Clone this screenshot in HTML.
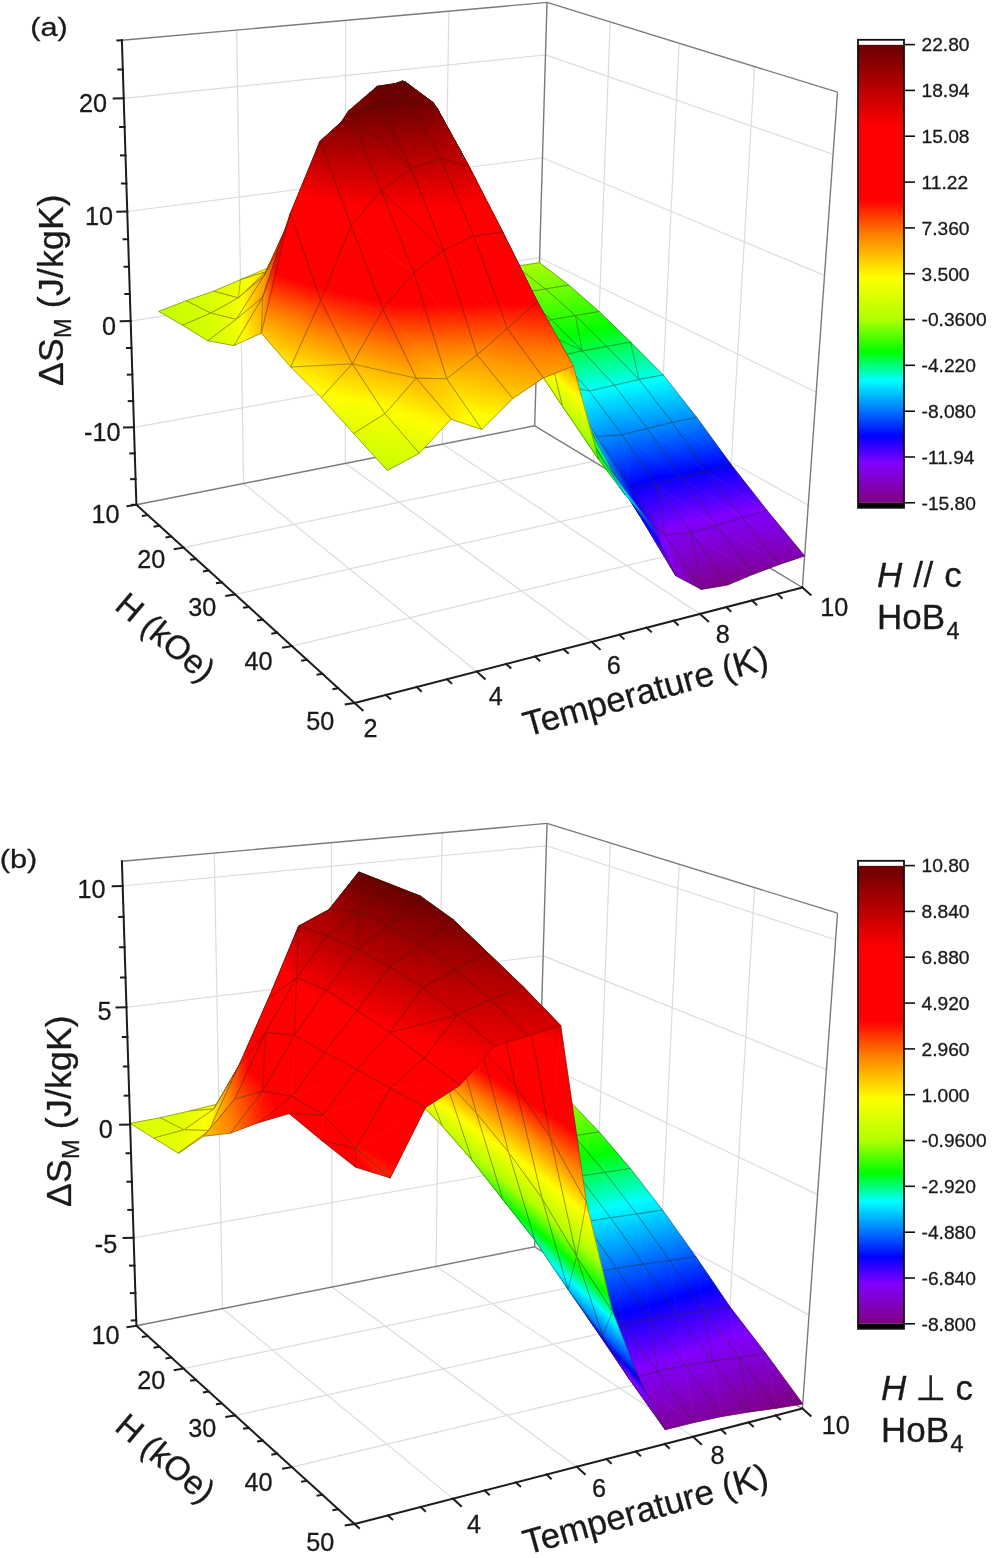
<!DOCTYPE html>
<html><head><meta charset="utf-8"><title>HoB4 magnetic entropy change</title>
<style>
html,body{margin:0;padding:0;background:#fff}
svg{display:block}
text{font-family:"Liberation Sans","DejaVu Sans",sans-serif;fill:#1a1a1a;stroke:#1a1a1a;stroke-width:.3}
.g{stroke:#dcdcdc;stroke-width:1.2;fill:none}
.f{stroke:#7a7a7a;stroke-width:1.4;fill:none}
.a{stroke:#1c1c1c;stroke-width:2;fill:none;stroke-linecap:square}
.s polygon{stroke-width:.7;stroke-linejoin:round}
.s path{fill:none;stroke:#2a2008;stroke-opacity:.42;stroke-width:.9;stroke-linejoin:round}
.ct{stroke:#111;stroke-width:1.6}
</style></head><body>
<svg width="995" height="1558" viewBox="0 0 995 1558">
<defs>
<linearGradient id="cm"><stop offset="0.000" stop-color="#800080"/><stop offset="0.088" stop-color="#8000ff"/><stop offset="0.145" stop-color="#0000ff"/><stop offset="0.267" stop-color="#00ffff"/><stop offset="0.329" stop-color="#00ff00"/><stop offset="0.400" stop-color="#b0ff00"/><stop offset="0.492" stop-color="#ffff00"/><stop offset="0.585" stop-color="#ff8000"/><stop offset="0.660" stop-color="#ff0000"/><stop offset="0.820" stop-color="#ff0000"/><stop offset="1.000" stop-color="#680000"/></linearGradient>
<linearGradient id="cb" x1="0" y1="1" x2="0" y2="0"><stop offset="0.000" stop-color="#800080"/><stop offset="0.088" stop-color="#8000ff"/><stop offset="0.145" stop-color="#0000ff"/><stop offset="0.267" stop-color="#00ffff"/><stop offset="0.329" stop-color="#00ff00"/><stop offset="0.400" stop-color="#b0ff00"/><stop offset="0.492" stop-color="#ffff00"/><stop offset="0.585" stop-color="#ff8000"/><stop offset="0.660" stop-color="#ff0000"/><stop offset="0.820" stop-color="#ff0000"/><stop offset="1.000" stop-color="#680000"/></linearGradient>
<linearGradient id="a0" href="#cm" gradientUnits="userSpaceOnUse" x1="611.8" y1="772.7" x2="411.1" y2="-511.3"/>
<linearGradient id="a1" href="#cm" gradientUnits="userSpaceOnUse" x1="631.4" y1="769.8" x2="421.8" y2="-513.4"/>
<linearGradient id="a2" href="#cm" gradientUnits="userSpaceOnUse" x1="588.8" y1="779.5" x2="386.8" y2="-512.4"/>
<linearGradient id="a3" href="#cm" gradientUnits="userSpaceOnUse" x1="608.4" y1="776.5" x2="397.5" y2="-514.3"/>
<linearGradient id="a4" href="#cm" gradientUnits="userSpaceOnUse" x1="573" y1="782" x2="371.1" y2="-510"/>
<linearGradient id="a5" href="#cm" gradientUnits="userSpaceOnUse" x1="577.6" y1="787.6" x2="364.1" y2="-519"/>
<linearGradient id="a6" href="#cm" gradientUnits="userSpaceOnUse" x1="521" y1="-122.1" x2="375.3" y2="874.3"/>
<linearGradient id="a7" href="#cm" gradientUnits="userSpaceOnUse" x1="601.5" y1="190.5" x2="292.6" y2="433"/>
<linearGradient id="a8" href="#cm" gradientUnits="userSpaceOnUse" x1="627.8" y1="691.9" x2="451.4" y2="-387.8"/>
<linearGradient id="a9" href="#cm" gradientUnits="userSpaceOnUse" x1="647.2" y1="688.8" x2="462" y2="-389.9"/>
<linearGradient id="a10" href="#cm" gradientUnits="userSpaceOnUse" x1="604.4" y1="698.4" x2="426.9" y2="-388.2"/>
<linearGradient id="a11" href="#cm" gradientUnits="userSpaceOnUse" x1="623.8" y1="695.2" x2="437.5" y2="-390.1"/>
<linearGradient id="a12" href="#cm" gradientUnits="userSpaceOnUse" x1="434" y1="302.2" x2="463.2" y2="236.5"/>
<linearGradient id="a13" href="#cm" gradientUnits="userSpaceOnUse" x1="405.6" y1="426.1" x2="486.5" y2="68.3"/>
<linearGradient id="a14" href="#cm" gradientUnits="userSpaceOnUse" x1="580.7" y1="704.9" x2="402.1" y2="-388.5"/>
<linearGradient id="a15" href="#cm" gradientUnits="userSpaceOnUse" x1="600.1" y1="701.7" x2="412.7" y2="-390.4"/>
<linearGradient id="a16" href="#cm" gradientUnits="userSpaceOnUse" x1="657.1" y1="645.7" x2="491.9" y2="-317"/>
<linearGradient id="a17" href="#cm" gradientUnits="userSpaceOnUse" x1="661.2" y1="649.2" x2="484.8" y2="-324.4"/>
<linearGradient id="a18" href="#cm" gradientUnits="userSpaceOnUse" x1="679.4" y1="217.2" x2="201.9" y2="443.9"/>
<linearGradient id="a19" href="#cm" gradientUnits="userSpaceOnUse" x1="463.9" y1="416.6" x2="554.1" y2="121.8"/>
<linearGradient id="a20" href="#cm" gradientUnits="userSpaceOnUse" x1="625.8" y1="655.4" x2="458.4" y2="-319.5"/>
<linearGradient id="a21" href="#cm" gradientUnits="userSpaceOnUse" x1="645.1" y1="652.1" x2="468.7" y2="-321.5"/>
<linearGradient id="a22" href="#cm" gradientUnits="userSpaceOnUse" x1="420.2" y1="418.9" x2="424.1" y2="66.5"/>
<linearGradient id="a23" href="#cm" gradientUnits="userSpaceOnUse" x1="397.9" y1="433" x2="435" y2="57.9"/>
<linearGradient id="a24" href="#cm" gradientUnits="userSpaceOnUse" x1="609.6" y1="658.2" x2="442.3" y2="-316.8"/>
<linearGradient id="a25" href="#cm" gradientUnits="userSpaceOnUse" x1="592.7" y1="639.7" x2="477.6" y2="-279"/>
<linearGradient id="a26" href="#cm" gradientUnits="userSpaceOnUse" x1="429.8" y1="416.2" x2="380" y2="66.5"/>
<linearGradient id="a27" href="#cm" gradientUnits="userSpaceOnUse" x1="422.1" y1="425.6" x2="391.4" y2="61.5"/>
<linearGradient id="a28" href="#cm" gradientUnits="userSpaceOnUse" x1="407.3" y1="408.9" x2="534.5" y2="98.3"/>
<linearGradient id="a29" href="#cm" gradientUnits="userSpaceOnUse" x1="389.6" y1="362.6" x2="530.2" y2="121.4"/>
<linearGradient id="a30" href="#cm" gradientUnits="userSpaceOnUse" x1="677.8" y1="645" x2="502" y2="-325"/>
<linearGradient id="a31" href="#cm" gradientUnits="userSpaceOnUse" x1="697.1" y1="641.5" x2="511.7" y2="-327"/>
<linearGradient id="a32" href="#cm" gradientUnits="userSpaceOnUse" x1="562.7" y1="309.3" x2="455.8" y2="325.8"/>
<linearGradient id="a33" href="#cm" gradientUnits="userSpaceOnUse" x1="857.5" y1="482.7" x2="-110.1" y2="60.9"/>
<linearGradient id="a34" href="#cm" gradientUnits="userSpaceOnUse" x1="399.9" y1="420.8" x2="342.4" y2="71.7"/>
<linearGradient id="a35" href="#cm" gradientUnits="userSpaceOnUse" x1="428.3" y1="415.2" x2="366" y2="67.9"/>
<linearGradient id="a36" href="#cm" gradientUnits="userSpaceOnUse" x1="661.6" y1="648" x2="485.9" y2="-322.1"/>
<linearGradient id="a37" href="#cm" gradientUnits="userSpaceOnUse" x1="647.2" y1="632.9" x2="522.7" y2="-285.7"/>
<linearGradient id="a38" href="#cm" gradientUnits="userSpaceOnUse" x1="372.8" y1="420.7" x2="314.6" y2="80.4"/>
<linearGradient id="a39" href="#cm" gradientUnits="userSpaceOnUse" x1="418.1" y1="405.8" x2="331.1" y2="79.1"/>
<linearGradient id="a40" href="#cm" gradientUnits="userSpaceOnUse" x1="618.8" y1="634.7" x2="503.8" y2="-278.7"/>
<linearGradient id="a41" href="#cm" gradientUnits="userSpaceOnUse" x1="622.6" y1="638.2" x2="496.6" y2="-287.5"/>
<linearGradient id="a42" href="#cm" gradientUnits="userSpaceOnUse" x1="344.6" y1="413.7" x2="286.2" y2="96.6"/>
<linearGradient id="a43" href="#cm" gradientUnits="userSpaceOnUse" x1="406.3" y1="382.8" x2="291.5" y2="102"/>
<linearGradient id="a44" href="#cm" gradientUnits="userSpaceOnUse" x1="313.2" y1="381.7" x2="259.4" y2="139.8"/>
<linearGradient id="a45" href="#cm" gradientUnits="userSpaceOnUse" x1="378.4" y1="322.4" x2="253.5" y2="161.3"/>
<linearGradient id="a46" href="#cm" gradientUnits="userSpaceOnUse" x1="442.7" y1="282.1" x2="539.5" y2="218"/>
<linearGradient id="a47" href="#cm" gradientUnits="userSpaceOnUse" x1="470.9" y1="326.1" x2="569.3" y2="263.4"/>
<linearGradient id="a48" href="#cm" gradientUnits="userSpaceOnUse" x1="340.9" y1="287.6" x2="469.9" y2="101.8"/>
<linearGradient id="a49" href="#cm" gradientUnits="userSpaceOnUse" x1="370" y1="309.7" x2="494.6" y2="117.7"/>
<linearGradient id="a50" href="#cm" gradientUnits="userSpaceOnUse" x1="704.5" y1="590.3" x2="552.9" y2="-201.6"/>
<linearGradient id="a51" href="#cm" gradientUnits="userSpaceOnUse" x1="707.3" y1="592.3" x2="543.5" y2="-207.9"/>
<linearGradient id="a52" href="#cm" gradientUnits="userSpaceOnUse" x1="862.2" y1="480.4" x2="-136.7" y2="107.2"/>
<linearGradient id="a53" href="#cm" gradientUnits="userSpaceOnUse" x1="841.8" y1="463.4" x2="-96.1" y2="166.8"/>
<linearGradient id="a54" href="#cm" gradientUnits="userSpaceOnUse" x1="243.3" y1="243.2" x2="272.5" y2="304.2"/>
<linearGradient id="a55" href="#cm" gradientUnits="userSpaceOnUse" x1="267.7" y1="252.2" x2="281.4" y2="260.4"/>
<linearGradient id="a56" href="#cm" gradientUnits="userSpaceOnUse" x1="-230" y1="79.7" x2="761.8" y2="531.5"/>
<linearGradient id="a57" href="#cm" gradientUnits="userSpaceOnUse" x1="57.1" y1="239" x2="447.3" y2="329.2"/>
<linearGradient id="a58" href="#cm" gradientUnits="userSpaceOnUse" x1="671.3" y1="593.1" x2="553.9" y2="-192.3"/>
<linearGradient id="a59" href="#cm" gradientUnits="userSpaceOnUse" x1="674.3" y1="595.4" x2="545.4" y2="-199.6"/>
<linearGradient id="a60" href="#cm" gradientUnits="userSpaceOnUse" x1="-762" y1="429.8" x2="1404.6" y2="142.2"/>
<linearGradient id="a61" href="#cm" gradientUnits="userSpaceOnUse" x1="-268" y1="299.8" x2="800.1" y2="301.8"/>
<linearGradient id="a62" href="#cm" gradientUnits="userSpaceOnUse" x1="414.6" y1="227.7" x2="418.7" y2="89.8"/>
<linearGradient id="a63" href="#cm" gradientUnits="userSpaceOnUse" x1="354.2" y1="216.9" x2="449.9" y2="102.5"/>
<linearGradient id="a64" href="#cm" gradientUnits="userSpaceOnUse" x1="646.5" y1="598.5" x2="527.8" y2="-192.8"/>
<linearGradient id="a65" href="#cm" gradientUnits="userSpaceOnUse" x1="649.3" y1="600.7" x2="519" y2="-200.1"/>
<linearGradient id="a66" href="#cm" gradientUnits="userSpaceOnUse" x1="467.1" y1="376.9" x2="606.5" y2="239.9"/>
<linearGradient id="a67" href="#cm" gradientUnits="userSpaceOnUse" x1="502" y1="414.1" x2="626.6" y2="248.8"/>
<linearGradient id="a68" href="#cm" gradientUnits="userSpaceOnUse" x1="-540.7" y1="695.3" x2="1125.4" y2="-194.9"/>
<linearGradient id="a69" href="#cm" gradientUnits="userSpaceOnUse" x1="-483.7" y1="609.7" x2="1059.2" y2="-66.6"/>
<linearGradient id="a70" href="#cm" gradientUnits="userSpaceOnUse" x1="450.6" y1="193.8" x2="481.8" y2="175.4"/>
<linearGradient id="a71" href="#cm" gradientUnits="userSpaceOnUse" x1="460.2" y1="238.6" x2="509.2" y2="213.4"/>
<linearGradient id="a72" href="#cm" gradientUnits="userSpaceOnUse" x1="730.1" y1="582" x2="571.6" y2="-192.6"/>
<linearGradient id="a73" href="#cm" gradientUnits="userSpaceOnUse" x1="726.1" y1="579.6" x2="589" y2="-181.3"/>
<linearGradient id="a74" href="#cm" gradientUnits="userSpaceOnUse" x1="708.8" y1="560.9" x2="223.6" y2="-45.1"/>
<linearGradient id="a75" href="#cm" gradientUnits="userSpaceOnUse" x1="671.6" y1="610.1" x2="371.7" y2="-213.4"/>
<linearGradient id="a76" href="#cm" gradientUnits="userSpaceOnUse" x1="-44.3" y1="-160.9" x2="461.5" y2="146.5"/>
<linearGradient id="a77" href="#cm" gradientUnits="userSpaceOnUse" x1="378.4" y1="418" x2="404" y2="70.2"/>
<linearGradient id="a78" href="#cm" gradientUnits="userSpaceOnUse" x1="699" y1="583.4" x2="573.1" y2="-174.4"/>
<linearGradient id="a79" href="#cm" gradientUnits="userSpaceOnUse" x1="701" y1="584.9" x2="562.6" y2="-181.5"/>
<linearGradient id="a80" href="#cm" gradientUnits="userSpaceOnUse" x1="449" y1="326.6" x2="352.1" y2="87.1"/>
<linearGradient id="a81" href="#cm" gradientUnits="userSpaceOnUse" x1="433.4" y1="348.9" x2="379.7" y2="76.7"/>
<linearGradient id="a82" href="#cm" gradientUnits="userSpaceOnUse" x1="432.4" y1="314.7" x2="315.2" y2="108.3"/>
<linearGradient id="a83" href="#cm" gradientUnits="userSpaceOnUse" x1="444.2" y1="322.8" x2="345" y2="90.9"/>
<linearGradient id="a84" href="#cm" gradientUnits="userSpaceOnUse" x1="458.3" y1="276.6" x2="532.9" y2="230.6"/>
<linearGradient id="a85" href="#cm" gradientUnits="userSpaceOnUse" x1="487.8" y1="314.7" x2="554.2" y2="269.6"/>
<linearGradient id="a86" href="#cm" gradientUnits="userSpaceOnUse" x1="431.6" y1="142.9" x2="450.9" y2="129.6"/>
<linearGradient id="a87" href="#cm" gradientUnits="userSpaceOnUse" x1="439.3" y1="181.3" x2="474.2" y2="160.5"/>
<linearGradient id="a88" href="#cm" gradientUnits="userSpaceOnUse" x1="545.7" y1="378.5" x2="584.3" y2="356.5"/>
<linearGradient id="a89" href="#cm" gradientUnits="userSpaceOnUse" x1="574.4" y1="408.6" x2="587.1" y2="400.2"/>
<linearGradient id="a90" href="#cm" gradientUnits="userSpaceOnUse" x1="673.8" y1="588.8" x2="546.7" y2="-174.6"/>
<linearGradient id="a91" href="#cm" gradientUnits="userSpaceOnUse" x1="675.6" y1="590.4" x2="535.9" y2="-181.7"/>
<linearGradient id="a92" href="#cm" gradientUnits="userSpaceOnUse" x1="402.3" y1="312" x2="275" y2="141"/>
<linearGradient id="a93" href="#cm" gradientUnits="userSpaceOnUse" x1="425.5" y1="308.8" x2="307.1" y2="115.5"/>
<linearGradient id="a94" href="#cm" gradientUnits="userSpaceOnUse" x1="343.1" y1="305" x2="245.6" y2="197.2"/>
<linearGradient id="a95" href="#cm" gradientUnits="userSpaceOnUse" x1="370.6" y1="255.1" x2="273.4" y2="177.5"/>
<linearGradient id="a96" href="#cm" gradientUnits="userSpaceOnUse" x1="241.3" y1="267.9" x2="269.6" y2="294.7"/>
<linearGradient id="a97" href="#cm" gradientUnits="userSpaceOnUse" x1="271.5" y1="253.3" x2="275.5" y2="255"/>
<linearGradient id="a98" href="#cm" gradientUnits="userSpaceOnUse" x1="-237.1" y1="263.4" x2="763" y2="363.8"/>
<linearGradient id="a99" href="#cm" gradientUnits="userSpaceOnUse" x1="116.6" y1="284.7" x2="373.7" y2="310.5"/>
<linearGradient id="a100" href="#cm" gradientUnits="userSpaceOnUse" x1="752.9" y1="587.5" x2="608" y2="-259.8"/>
<linearGradient id="a101" href="#cm" gradientUnits="userSpaceOnUse" x1="755" y1="588.6" x2="596.2" y2="-269.1"/>
<linearGradient id="a102" href="#cm" gradientUnits="userSpaceOnUse" x1="668.3" y1="601.7" x2="393.6" y2="-185.5"/>
<linearGradient id="a103" href="#cm" gradientUnits="userSpaceOnUse" x1="682.3" y1="596.4" x2="399" y2="-185.8"/>
<linearGradient id="a104" href="#cm" gradientUnits="userSpaceOnUse" x1="-318.4" y1="794.1" x2="866.5" y2="-274.3"/>
<linearGradient id="a105" href="#cm" gradientUnits="userSpaceOnUse" x1="-154.4" y1="444" x2="669" y2="179.7"/>
<linearGradient id="a106" href="#cm" gradientUnits="userSpaceOnUse" x1="727.8" y1="592.8" x2="581.3" y2="-261.1"/>
<linearGradient id="a107" href="#cm" gradientUnits="userSpaceOnUse" x1="725.5" y1="590.5" x2="604.1" y2="-243.3"/>
<linearGradient id="a108" href="#cm" gradientUnits="userSpaceOnUse" x1="397.5" y1="131.1" x2="423.2" y2="93"/>
<linearGradient id="a109" href="#cm" gradientUnits="userSpaceOnUse" x1="388.2" y1="159.9" x2="446.5" y2="113.2"/>
<linearGradient id="a110" href="#cm" gradientUnits="userSpaceOnUse" x1="578.7" y1="312.4" x2="486.7" y2="330.3"/>
<linearGradient id="a111" href="#cm" gradientUnits="userSpaceOnUse" x1="628.4" y1="350.8" x2="438" y2="379.1"/>
<linearGradient id="a112" href="#cm" gradientUnits="userSpaceOnUse" x1="468.1" y1="193.1" x2="481.9" y2="185.9"/>
<linearGradient id="a113" href="#cm" gradientUnits="userSpaceOnUse" x1="479" y1="238.2" x2="506.3" y2="224.8"/>
<linearGradient id="a114" href="#cm" gradientUnits="userSpaceOnUse" x1="606" y1="424.6" x2="549.1" y2="448.8"/>
<linearGradient id="a115" href="#cm" gradientUnits="userSpaceOnUse" x1="635.1" y1="449.7" x2="510.6" y2="506.9"/>
<linearGradient id="a116" href="#cm" gradientUnits="userSpaceOnUse" x1="701.9" y1="595.6" x2="555.5" y2="-246.5"/>
<linearGradient id="a117" href="#cm" gradientUnits="userSpaceOnUse" x1="703.4" y1="596.6" x2="542.9" y2="-255.4"/>
<linearGradient id="a118" href="#cm" gradientUnits="userSpaceOnUse" x1="300.2" y1="897.9" x2="408.4" y2="55"/>
<linearGradient id="a119" href="#cm" gradientUnits="userSpaceOnUse" x1="354.4" y1="373.8" x2="406.4" y2="82.3"/>
<linearGradient id="a120" href="#cm" gradientUnits="userSpaceOnUse" x1="782.3" y1="589.7" x2="617.2" y2="-338.2"/>
<linearGradient id="a121" href="#cm" gradientUnits="userSpaceOnUse" x1="781.5" y1="587.9" x2="649.6" y2="-312.2"/>
<linearGradient id="a122" href="#cm" gradientUnits="userSpaceOnUse" x1="692.7" y1="608" x2="346" y2="-260.3"/>
<linearGradient id="a123" href="#cm" gradientUnits="userSpaceOnUse" x1="705.7" y1="602.4" x2="350.2" y2="-260"/>
<linearGradient id="a124" href="#cm" gradientUnits="userSpaceOnUse" x1="674.2" y1="325.4" x2="400.4" y2="236.2"/>
<linearGradient id="a125" href="#cm" gradientUnits="userSpaceOnUse" x1="723.6" y1="472.3" x2="332.9" y2="169.1"/>
<linearGradient id="a126" href="#cm" gradientUnits="userSpaceOnUse" x1="395.7" y1="133.1" x2="365.2" y2="96.1"/>
<linearGradient id="a127" href="#cm" gradientUnits="userSpaceOnUse" x1="398.8" y1="177.4" x2="385.9" y2="84.9"/>
<linearGradient id="a128" href="#cm" gradientUnits="userSpaceOnUse" x1="575" y1="384.4" x2="552.5" y2="397.5"/>
<linearGradient id="a129" href="#cm" gradientUnits="userSpaceOnUse" x1="585.6" y1="422.9" x2="587.7" y2="421.8"/>
<linearGradient id="a130" href="#cm" gradientUnits="userSpaceOnUse" x1="462.7" y1="131.2" x2="450.9" y2="137.5"/>
<linearGradient id="a131" href="#cm" gradientUnits="userSpaceOnUse" x1="470" y1="173.9" x2="471.9" y2="172.9"/>
<linearGradient id="a132" href="#cm" gradientUnits="userSpaceOnUse" x1="753.5" y1="591.4" x2="634" y2="-303.5"/>
<linearGradient id="a133" href="#cm" gradientUnits="userSpaceOnUse" x1="753.8" y1="590.1" x2="657.8" y2="-281.9"/>
<linearGradient id="a134" href="#cm" gradientUnits="userSpaceOnUse" x1="107.5" y1="287.7" x2="382.2" y2="306"/>
<linearGradient id="a135" href="#cm" gradientUnits="userSpaceOnUse" x1="179.6" y1="259.2" x2="330.6" y2="269.3"/>
<linearGradient id="a136" href="#cm" gradientUnits="userSpaceOnUse" x1="-140.1" y1="392.7" x2="658.2" y2="267.4"/>
<linearGradient id="a137" href="#cm" gradientUnits="userSpaceOnUse" x1="97.5" y1="321" x2="390.1" y2="320.5"/>
<linearGradient id="a138" href="#cm" gradientUnits="userSpaceOnUse" x1="381.3" y1="166.6" x2="333.5" y2="122.7"/>
<linearGradient id="a139" href="#cm" gradientUnits="userSpaceOnUse" x1="404.5" y1="172.6" x2="355.4" y2="101.1"/>
<linearGradient id="a140" href="#cm" gradientUnits="userSpaceOnUse" x1="240.7" y1="225.1" x2="303.9" y2="244.7"/>
<linearGradient id="a141" href="#cm" gradientUnits="userSpaceOnUse" x1="252.8" y1="184.5" x2="316.7" y2="204.6"/>
<linearGradient id="a142" href="#cm" gradientUnits="userSpaceOnUse" x1="254.6" y1="160.3" x2="325.4" y2="181.2"/>
<linearGradient id="a143" href="#cm" gradientUnits="userSpaceOnUse" x1="255.3" y1="113.7" x2="340.1" y2="146"/>
<linearGradient id="a144" href="#cm" gradientUnits="userSpaceOnUse" x1="656.4" y1="477.4" x2="473.8" y2="535.3"/>
<linearGradient id="a145" href="#cm" gradientUnits="userSpaceOnUse" x1="681.6" y1="501.6" x2="386.8" y2="592"/>
<linearGradient id="a146" href="#cm" gradientUnits="userSpaceOnUse" x1="729.9" y1="595.3" x2="564.9" y2="-302.6"/>
<linearGradient id="a147" href="#cm" gradientUnits="userSpaceOnUse" x1="726.5" y1="591.5" x2="652.2" y2="-227.8"/>
<linearGradient id="a148" href="#cm" gradientUnits="userSpaceOnUse" x1="631.9" y1="329.7" x2="429.4" y2="390.8"/>
<linearGradient id="a149" href="#cm" gradientUnits="userSpaceOnUse" x1="641.8" y1="360.2" x2="437.9" y2="421.8"/>
<linearGradient id="a150" href="#cm" gradientUnits="userSpaceOnUse" x1="727" y1="411.3" x2="394.8" y2="146.9"/>
<linearGradient id="a151" href="#cm" gradientUnits="userSpaceOnUse" x1="707.6" y1="443.1" x2="373.9" y2="168.9"/>
<linearGradient id="a152" href="#cm" gradientUnits="userSpaceOnUse" x1="466.3" y1="52.3" x2="424.1" y2="98.9"/>
<linearGradient id="a153" href="#cm" gradientUnits="userSpaceOnUse" x1="427.2" y1="133.7" x2="446.3" y2="122.2"/>
<linearGradient id="a154" href="#cm" gradientUnits="userSpaceOnUse" x1="705.2" y1="600.5" x2="365.7" y2="-241.7"/>
<linearGradient id="a155" href="#cm" gradientUnits="userSpaceOnUse" x1="716.5" y1="596.5" x2="406.4" y2="-263.7"/>
<linearGradient id="a156" href="#cm" gradientUnits="userSpaceOnUse" x1="599.9" y1="449.5" x2="601.9" y2="448.4"/>
<linearGradient id="a157" href="#cm" gradientUnits="userSpaceOnUse" x1="624" y1="481.7" x2="605.2" y2="492.3"/>
<linearGradient id="a158" href="#cm" gradientUnits="userSpaceOnUse" x1="699.8" y1="541.5" x2="284.5" y2="550.8"/>
<linearGradient id="a159" href="#cm" gradientUnits="userSpaceOnUse" x1="710.1" y1="568.8" x2="145" y2="531.7"/>
<linearGradient id="a160" href="#cm" gradientUnits="userSpaceOnUse" x1="-163.5" y1="3429.5" x2="398.6" y2="81"/>
<linearGradient id="a161" href="#cm" gradientUnits="userSpaceOnUse" x1="1641.9" y1="346.5" x2="403.2" y2="94.1"/>
<linearGradient id="a162" href="#cm" gradientUnits="userSpaceOnUse" x1="576.9" y1="306.4" x2="461.5" y2="335.5"/>
<linearGradient id="a163" href="#cm" gradientUnits="userSpaceOnUse" x1="653.8" y1="327.4" x2="402.2" y2="387.1"/>
<linearGradient id="a164" href="#cm" gradientUnits="userSpaceOnUse" x1="451.8" y1="147.4" x2="457.5" y2="144.2"/>
<linearGradient id="a165" href="#cm" gradientUnits="userSpaceOnUse" x1="424.7" y1="223" x2="490.6" y2="196.9"/>
<linearGradient id="a166" href="#cm" gradientUnits="userSpaceOnUse" x1="-316.6" y1="258.1" x2="381.8" y2="97.2"/>
<linearGradient id="a167" href="#cm" gradientUnits="userSpaceOnUse" x1="647" y1="388" x2="452.5" y2="450.7"/>
<linearGradient id="a168" href="#cm" gradientUnits="userSpaceOnUse" x1="633.7" y1="430" x2="509.9" y2="469.9"/>
<linearGradient id="a169" href="#cm" gradientUnits="userSpaceOnUse" x1="40" y1="393" x2="447.1" y2="263.4"/>
<linearGradient id="a170" href="#cm" gradientUnits="userSpaceOnUse" x1="172.1" y1="290" x2="330.1" y2="276.1"/>
<linearGradient id="a171" href="#cm" gradientUnits="userSpaceOnUse" x1="266.7" y1="99.8" x2="345.3" y2="130.9"/>
<linearGradient id="a172" href="#cm" gradientUnits="userSpaceOnUse" x1="309.2" y1="-5.6" x2="360.7" y2="112.6"/>
<linearGradient id="a173" href="#cm" gradientUnits="userSpaceOnUse" x1="626.5" y1="513.6" x2="673.5" y2="473.7"/>
<linearGradient id="a174" href="#cm" gradientUnits="userSpaceOnUse" x1="647.2" y1="545.3" x2="713" y2="496.6"/>
<linearGradient id="a175" href="#cm" gradientUnits="userSpaceOnUse" x1="333.8" y1="276.2" x2="257.9" y2="230.5"/>
<linearGradient id="a176" href="#cm" gradientUnits="userSpaceOnUse" x1="362.9" y1="231.7" x2="286.1" y2="183.6"/>
<linearGradient id="a177" href="#cm" gradientUnits="userSpaceOnUse" x1="409.5" y1="264.8" x2="290.6" y2="157"/>
<linearGradient id="a178" href="#cm" gradientUnits="userSpaceOnUse" x1="418.7" y1="315" x2="322.3" y2="123.3"/>
<linearGradient id="a179" href="#cm" gradientUnits="userSpaceOnUse" x1="630.8" y1="349.8" x2="447.3" y2="419.9"/>
<linearGradient id="a180" href="#cm" gradientUnits="userSpaceOnUse" x1="630.7" y1="386.2" x2="475.3" y2="444.4"/>
<linearGradient id="a181" href="#cm" gradientUnits="userSpaceOnUse" x1="640.6" y1="757.2" x2="419" y2="93.2"/>
<linearGradient id="a182" href="#cm" gradientUnits="userSpaceOnUse" x1="669.8" y1="740.8" x2="428.8" y2="90.1"/>
<linearGradient id="a183" href="#cm" gradientUnits="userSpaceOnUse" x1="354.9" y1="391.9" x2="532.7" y2="173.5"/>
<linearGradient id="a184" href="#cm" gradientUnits="userSpaceOnUse" x1="394.7" y1="420.1" x2="575.9" y2="212.3"/>
<linearGradient id="a185" href="#cm" gradientUnits="userSpaceOnUse" x1="616.4" y1="466.2" x2="593.7" y2="479.8"/>
<linearGradient id="a186" href="#cm" gradientUnits="userSpaceOnUse" x1="643.7" y1="490.3" x2="588" y2="527"/>
<linearGradient id="a187" href="#cm" gradientUnits="userSpaceOnUse" x1="479.2" y1="750.5" x2="406.9" y2="97.2"/>
<linearGradient id="a188" href="#cm" gradientUnits="userSpaceOnUse" x1="445" y1="724.3" x2="407.8" y2="98.7"/>
<linearGradient id="a189" href="#cm" gradientUnits="userSpaceOnUse" x1="400.6" y1="720" x2="379.2" y2="100.5"/>
<linearGradient id="a190" href="#cm" gradientUnits="userSpaceOnUse" x1="373.3" y1="690" x2="381.6" y2="102.6"/>
<linearGradient id="a191" href="#cm" gradientUnits="userSpaceOnUse" x1="189.8" y1="588" x2="344.6" y2="119.7"/>
<linearGradient id="a192" href="#cm" gradientUnits="userSpaceOnUse" x1="152.3" y1="610.6" x2="400.1" y2="115.3"/>
<linearGradient id="a193" href="#cm" gradientUnits="userSpaceOnUse" x1="627" y1="712.3" x2="431.9" y2="94.5"/>
<linearGradient id="a194" href="#cm" gradientUnits="userSpaceOnUse" x1="559.9" y1="742.7" x2="463.2" y2="84.4"/>
<linearGradient id="a195" href="#cm" gradientUnits="userSpaceOnUse" x1="405.8" y1="432" x2="587.2" y2="220.8"/>
<linearGradient id="a196" href="#cm" gradientUnits="userSpaceOnUse" x1="449.8" y1="474.2" x2="625.1" y2="247.4"/>
<linearGradient id="a197" href="#cm" gradientUnits="userSpaceOnUse" x1="321.9" y1="678.7" x2="352.9" y2="102.5"/>
<linearGradient id="a198" href="#cm" gradientUnits="userSpaceOnUse" x1="319.7" y1="671.4" x2="356.1" y2="103.6"/>
<linearGradient id="a199" href="#cm" gradientUnits="userSpaceOnUse" x1="617.7" y1="416.7" x2="527.2" y2="464.9"/>
<linearGradient id="a200" href="#cm" gradientUnits="userSpaceOnUse" x1="628" y1="452.2" x2="555.4" y2="489.6"/>
<linearGradient id="a201" href="#cm" gradientUnits="userSpaceOnUse" x1="232.4" y1="625.7" x2="338.2" y2="107.1"/>
<linearGradient id="a202" href="#cm" gradientUnits="userSpaceOnUse" x1="242.2" y1="631.8" x2="349" y2="108.1"/>
<linearGradient id="a203" href="#cm" gradientUnits="userSpaceOnUse" x1="475.8" y1="711.3" x2="436" y2="98.3"/>
<linearGradient id="a204" href="#cm" gradientUnits="userSpaceOnUse" x1="469.7" y1="707.5" x2="436.3" y2="99.1"/>
<linearGradient id="a205" href="#cm" gradientUnits="userSpaceOnUse" x1="402.1" y1="694.6" x2="414.2" y2="102.5"/>
<linearGradient id="a206" href="#cm" gradientUnits="userSpaceOnUse" x1="412.5" y1="704.8" x2="413" y2="100"/>
<linearGradient id="a207" href="#cm" gradientUnits="userSpaceOnUse" x1="577.2" y1="750.7" x2="478.4" y2="79"/>
<linearGradient id="a208" href="#cm" gradientUnits="userSpaceOnUse" x1="500.5" y1="693.7" x2="508.6" y2="101.7"/>
<linearGradient id="a209" href="#cm" gradientUnits="userSpaceOnUse" x1="340.5" y1="682.5" x2="393.5" y2="104.4"/>
<linearGradient id="a210" href="#cm" gradientUnits="userSpaceOnUse" x1="346.8" y1="687.5" x2="396.8" y2="103.2"/>
<linearGradient id="a211" href="#cm" gradientUnits="userSpaceOnUse" x1="228.7" y1="638.9" x2="393.3" y2="113.8"/>
<linearGradient id="a212" href="#cm" gradientUnits="userSpaceOnUse" x1="166.7" y1="715.7" x2="469.4" y2="51.6"/>
<linearGradient id="a213" href="#cm" gradientUnits="userSpaceOnUse" x1="265.3" y1="639.2" x2="390.5" y2="116.4"/>
<linearGradient id="a214" href="#cm" gradientUnits="userSpaceOnUse" x1="267" y1="668.8" x2="406.5" y2="104.1"/>
<linearGradient id="a215" href="#cm" gradientUnits="userSpaceOnUse" x1="461.5" y1="466.3" x2="635.3" y2="270.7"/>
<linearGradient id="a216" href="#cm" gradientUnits="userSpaceOnUse" x1="501.5" y1="503.6" x2="671" y2="298.2"/>
<linearGradient id="a217" href="#cm" gradientUnits="userSpaceOnUse" x1="499.4" y1="703.7" x2="465" y2="98.2"/>
<linearGradient id="a218" href="#cm" gradientUnits="userSpaceOnUse" x1="480.7" y1="690.6" x2="473.5" y2="104.3"/>
<linearGradient id="a219" href="#cm" gradientUnits="userSpaceOnUse" x1="452.7" y1="691.9" x2="441.2" y2="104.3"/>
<linearGradient id="a220" href="#cm" gradientUnits="userSpaceOnUse" x1="456.8" y1="694.8" x2="438.7" y2="102.7"/>
<linearGradient id="a221" href="#cm" gradientUnits="userSpaceOnUse" x1="393.1" y1="683.3" x2="426.9" y2="108.9"/>
<linearGradient id="a222" href="#cm" gradientUnits="userSpaceOnUse" x1="542.9" y1="766.6" x2="321.4" y2="52.9"/>
<linearGradient id="a223" href="#cm" gradientUnits="userSpaceOnUse" x1="497" y1="729.4" x2="565.6" y2="85"/>
<linearGradient id="a224" href="#cm" gradientUnits="userSpaceOnUse" x1="555.1" y1="846.6" x2="531.3" y2="5.1"/>
<linearGradient id="a225" href="#cm" gradientUnits="userSpaceOnUse" x1="302.8" y1="677.7" x2="442.6" y2="113"/>
<linearGradient id="a226" href="#cm" gradientUnits="userSpaceOnUse" x1="297.6" y1="730.7" x2="463.1" y2="72.8"/>
<linearGradient id="a227" href="#cm" gradientUnits="userSpaceOnUse" x1="268.7" y1="722.3" x2="435.6" y2="66.9"/>
<linearGradient id="a228" href="#cm" gradientUnits="userSpaceOnUse" x1="243.1" y1="847.9" x2="475.2" y2="-63.7"/>
<linearGradient id="a229" href="#cm" gradientUnits="userSpaceOnUse" x1="437.1" y1="758.3" x2="561.1" y2="63.3"/>
<linearGradient id="a230" href="#cm" gradientUnits="userSpaceOnUse" x1="442.9" y1="818.1" x2="566.5" y2="18.9"/>
<linearGradient id="a231" href="#cm" gradientUnits="userSpaceOnUse" x1="394.9" y1="783.6" x2="549.2" y2="37"/>
<linearGradient id="a232" href="#cm" gradientUnits="userSpaceOnUse" x1="404.9" y1="757.4" x2="552.7" y2="62.8"/>
<linearGradient id="a233" href="#cm" gradientUnits="userSpaceOnUse" x1="852.8" y1="992.8" x2="69.2" y2="-142"/>
<linearGradient id="a234" href="#cm" gradientUnits="userSpaceOnUse" x1="868.8" y1="650.9" x2="59.3" y2="172.4"/>
<linearGradient id="a235" href="#cm" gradientUnits="userSpaceOnUse" x1="299.6" y1="745.8" x2="529.3" y2="78.9"/>
<linearGradient id="a236" href="#cm" gradientUnits="userSpaceOnUse" x1="294.7" y1="769" x2="552" y2="61.6"/>
<linearGradient id="a237" href="#cm" gradientUnits="userSpaceOnUse" x1="291.8" y1="848.2" x2="494.9" y2="-46"/>
<linearGradient id="a238" href="#cm" gradientUnits="userSpaceOnUse" x1="286.8" y1="917.3" x2="511.4" y2="-127"/>
<linearGradient id="b0" href="#cm" gradientUnits="userSpaceOnUse" x1="601.5" y1="1509.4" x2="435.6" y2="482.4"/>
<linearGradient id="b1" href="#cm" gradientUnits="userSpaceOnUse" x1="624.8" y1="1505.2" x2="441.6" y2="481.8"/>
<linearGradient id="b2" href="#cm" gradientUnits="userSpaceOnUse" x1="578.9" y1="1521.4" x2="407.1" y2="475.9"/>
<linearGradient id="b3" href="#cm" gradientUnits="userSpaceOnUse" x1="603.5" y1="1516.6" x2="411" y2="475.9"/>
<linearGradient id="b4" href="#cm" gradientUnits="userSpaceOnUse" x1="553.2" y1="1531.1" x2="382.1" y2="472.5"/>
<linearGradient id="b5" href="#cm" gradientUnits="userSpaceOnUse" x1="576.7" y1="1526.5" x2="387.9" y2="472.3"/>
<linearGradient id="b6" href="#cm" gradientUnits="userSpaceOnUse" x1="624.5" y1="1466.5" x2="460.8" y2="538.2"/>
<linearGradient id="b7" href="#cm" gradientUnits="userSpaceOnUse" x1="647.1" y1="1462" x2="466.2" y2="537.8"/>
<linearGradient id="b8" href="#cm" gradientUnits="userSpaceOnUse" x1="525.8" y1="1538.3" x2="358.6" y2="472.3"/>
<linearGradient id="b9" href="#cm" gradientUnits="userSpaceOnUse" x1="547.2" y1="1534.4" x2="367.8" y2="471.5"/>
<linearGradient id="b10" href="#cm" gradientUnits="userSpaceOnUse" x1="602.2" y1="1477.6" x2="430.8" y2="532.6"/>
<linearGradient id="b11" href="#cm" gradientUnits="userSpaceOnUse" x1="626" y1="1472.4" x2="434.1" y2="533"/>
<linearGradient id="b12" href="#cm" gradientUnits="userSpaceOnUse" x1="892.7" y1="1684.9" x2="-198.1" y2="296.3"/>
<linearGradient id="b13" href="#cm" gradientUnits="userSpaceOnUse" x1="898.4" y1="1412.5" x2="-196.1" y2="665.6"/>
<linearGradient id="b14" href="#cm" gradientUnits="userSpaceOnUse" x1="575.6" y1="1486.3" x2="407" y2="530.8"/>
<linearGradient id="b15" href="#cm" gradientUnits="userSpaceOnUse" x1="598.3" y1="1481.5" x2="412.2" y2="530.8"/>
<linearGradient id="b16" href="#cm" gradientUnits="userSpaceOnUse" x1="465.3" y1="997.9" x2="329.8" y2="1197.4"/>
<linearGradient id="b17" href="#cm" gradientUnits="userSpaceOnUse" x1="481.5" y1="1043.1" x2="345.1" y2="1171.9"/>
<linearGradient id="b18" href="#cm" gradientUnits="userSpaceOnUse" x1="649.9" y1="1443" x2="480.8" y2="568.6"/>
<linearGradient id="b19" href="#cm" gradientUnits="userSpaceOnUse" x1="671.7" y1="1438.1" x2="484.9" y2="568.6"/>
<linearGradient id="b20" href="#cm" gradientUnits="userSpaceOnUse" x1="546.7" y1="1492.9" x2="385.6" y2="532"/>
<linearGradient id="b21" href="#cm" gradientUnits="userSpaceOnUse" x1="567.7" y1="1488.8" x2="394.3" y2="531.3"/>
<linearGradient id="b22" href="#cm" gradientUnits="userSpaceOnUse" x1="627.9" y1="1453.5" x2="448.9" y2="563.5"/>
<linearGradient id="b23" href="#cm" gradientUnits="userSpaceOnUse" x1="650.7" y1="1448" x2="450.7" y2="564.4"/>
<linearGradient id="b24" href="#cm" gradientUnits="userSpaceOnUse" x1="391.5" y1="1071.5" x2="380.4" y2="1089"/>
<linearGradient id="b25" href="#cm" gradientUnits="userSpaceOnUse" x1="341.6" y1="1210.2" x2="430" y2="940.6"/>
<linearGradient id="b26" href="#cm" gradientUnits="userSpaceOnUse" x1="732.5" y1="1454.4" x2="36.9" y2="617"/>
<linearGradient id="b27" href="#cm" gradientUnits="userSpaceOnUse" x1="724.1" y1="1489.5" x2="65.9" y2="549"/>
<linearGradient id="b28" href="#cm" gradientUnits="userSpaceOnUse" x1="600.4" y1="1461.9" x2="426.5" y2="562.6"/>
<linearGradient id="b29" href="#cm" gradientUnits="userSpaceOnUse" x1="622.5" y1="1456.8" x2="430.5" y2="563"/>
<linearGradient id="b30" href="#cm" gradientUnits="userSpaceOnUse" x1="675.2" y1="1426.3" x2="497.8" y2="590.8"/>
<linearGradient id="b31" href="#cm" gradientUnits="userSpaceOnUse" x1="696.1" y1="1421.2" x2="500" y2="591.5"/>
<linearGradient id="b32" href="#cm" gradientUnits="userSpaceOnUse" x1="556.7" y1="1039.7" x2="269.2" y2="1205.7"/>
<linearGradient id="b33" href="#cm" gradientUnits="userSpaceOnUse" x1="549.6" y1="1079.9" x2="304.9" y2="1199.1"/>
<linearGradient id="b34" href="#cm" gradientUnits="userSpaceOnUse" x1="338" y1="1166.2" x2="377.3" y2="964.7"/>
<linearGradient id="b35" href="#cm" gradientUnits="userSpaceOnUse" x1="317.1" y1="1254.2" x2="387.7" y2="891.7"/>
<linearGradient id="b36" href="#cm" gradientUnits="userSpaceOnUse" x1="570.4" y1="1468.4" x2="407.6" y2="564.7"/>
<linearGradient id="b37" href="#cm" gradientUnits="userSpaceOnUse" x1="591" y1="1464.1" x2="415.3" y2="564.1"/>
<linearGradient id="b38" href="#cm" gradientUnits="userSpaceOnUse" x1="653.3" y1="1436.3" x2="463.7" y2="586.3"/>
<linearGradient id="b39" href="#cm" gradientUnits="userSpaceOnUse" x1="674.9" y1="1430.5" x2="463.4" y2="588.2"/>
<linearGradient id="b40" href="#cm" gradientUnits="userSpaceOnUse" x1="624.4" y1="1444.4" x2="233.1" y2="631.2"/>
<linearGradient id="b41" href="#cm" gradientUnits="userSpaceOnUse" x1="585.2" y1="1477.3" x2="347" y2="554"/>
<linearGradient id="b42" href="#cm" gradientUnits="userSpaceOnUse" x1="381.6" y1="1131.5" x2="449.4" y2="1054.1"/>
<linearGradient id="b43" href="#cm" gradientUnits="userSpaceOnUse" x1="351.2" y1="1243.9" x2="472.6" y2="933.3"/>
<linearGradient id="b44" href="#cm" gradientUnits="userSpaceOnUse" x1="625.3" y1="1444.7" x2="442.9" y2="585.9"/>
<linearGradient id="b45" href="#cm" gradientUnits="userSpaceOnUse" x1="646.4" y1="1439.3" x2="445.2" y2="587"/>
<linearGradient id="b46" href="#cm" gradientUnits="userSpaceOnUse" x1="338.4" y1="1229.8" x2="326.9" y2="903"/>
<linearGradient id="b47" href="#cm" gradientUnits="userSpaceOnUse" x1="295.5" y1="1279.9" x2="346.5" y2="872.4"/>
<linearGradient id="b48" href="#cm" gradientUnits="userSpaceOnUse" x1="700.5" y1="1416.3" x2="508.9" y2="600.7"/>
<linearGradient id="b49" href="#cm" gradientUnits="userSpaceOnUse" x1="720.1" y1="1411" x2="508.7" y2="602.4"/>
<linearGradient id="b50" href="#cm" gradientUnits="userSpaceOnUse" x1="545.7" y1="1097.2" x2="332.6" y2="1215.4"/>
<linearGradient id="b51" href="#cm" gradientUnits="userSpaceOnUse" x1="538.1" y1="1138.6" x2="376.5" y2="1211.4"/>
<linearGradient id="b52" href="#cm" gradientUnits="userSpaceOnUse" x1="594.5" y1="1451.3" x2="427" y2="588.5"/>
<linearGradient id="b53" href="#cm" gradientUnits="userSpaceOnUse" x1="614.6" y1="1446.8" x2="433.4" y2="588.3"/>
<linearGradient id="b54" href="#cm" gradientUnits="userSpaceOnUse" x1="352.2" y1="1243.4" x2="258.9" y2="897.2"/>
<linearGradient id="b55" href="#cm" gradientUnits="userSpaceOnUse" x1="382.7" y1="1234.2" x2="285.5" y2="890.2"/>
<linearGradient id="b56" href="#cm" gradientUnits="userSpaceOnUse" x1="678.6" y1="1426" x2="471.8" y2="596.6"/>
<linearGradient id="b57" href="#cm" gradientUnits="userSpaceOnUse" x1="698.6" y1="1420" x2="468.9" y2="600"/>
<linearGradient id="b58" href="#cm" gradientUnits="userSpaceOnUse" x1="314" y1="1245.3" x2="228.7" y2="912.7"/>
<linearGradient id="b59" href="#cm" gradientUnits="userSpaceOnUse" x1="366.8" y1="1219.7" x2="241.8" y2="913"/>
<linearGradient id="b60" href="#cm" gradientUnits="userSpaceOnUse" x1="581.1" y1="1455.6" x2="368.8" y2="598"/>
<linearGradient id="b61" href="#cm" gradientUnits="userSpaceOnUse" x1="589.4" y1="1454.8" x2="402.5" y2="587.4"/>
<linearGradient id="b62" href="#cm" gradientUnits="userSpaceOnUse" x1="320.6" y1="1223.4" x2="429.9" y2="923.8"/>
<linearGradient id="b63" href="#cm" gradientUnits="userSpaceOnUse" x1="318.6" y1="1269.4" x2="419.1" y2="893.8"/>
<linearGradient id="b64" href="#cm" gradientUnits="userSpaceOnUse" x1="274.9" y1="1220.6" x2="200.7" y2="956.6"/>
<linearGradient id="b65" href="#cm" gradientUnits="userSpaceOnUse" x1="339.5" y1="1171.2" x2="196.8" y2="970.7"/>
<linearGradient id="b66" href="#cm" gradientUnits="userSpaceOnUse" x1="650.3" y1="1434.5" x2="453.5" y2="596.3"/>
<linearGradient id="b67" href="#cm" gradientUnits="userSpaceOnUse" x1="670.2" y1="1429" x2="453.4" y2="598.5"/>
<linearGradient id="b68" href="#cm" gradientUnits="userSpaceOnUse" x1="193.6" y1="1057.9" x2="222.7" y2="1163.1"/>
<linearGradient id="b69" href="#cm" gradientUnits="userSpaceOnUse" x1="240.1" y1="1100.2" x2="211.7" y2="1081.4"/>
<linearGradient id="b70" href="#cm" gradientUnits="userSpaceOnUse" x1="358.6" y1="1216.4" x2="500.9" y2="974.4"/>
<linearGradient id="b71" href="#cm" gradientUnits="userSpaceOnUse" x1="380.8" y1="1222.5" x2="536.6" y2="1006.3"/>
<linearGradient id="b72" href="#cm" gradientUnits="userSpaceOnUse" x1="725.2" y1="1411.2" x2="511" y2="595.2"/>
<linearGradient id="b73" href="#cm" gradientUnits="userSpaceOnUse" x1="743.1" y1="1405.8" x2="507.8" y2="598.6"/>
<linearGradient id="b74" href="#cm" gradientUnits="userSpaceOnUse" x1="-457.8" y1="248.2" x2="926.7" y2="2145.8"/>
<linearGradient id="b75" href="#cm" gradientUnits="userSpaceOnUse" x1="-30.7" y1="1015.4" x2="446.8" y2="1228.6"/>
<linearGradient id="b76" href="#cm" gradientUnits="userSpaceOnUse" x1="521.9" y1="1163" x2="434.4" y2="1218.9"/>
<linearGradient id="b77" href="#cm" gradientUnits="userSpaceOnUse" x1="533.2" y1="1193.1" x2="459.2" y2="1236.3"/>
<linearGradient id="b78" href="#cm" gradientUnits="userSpaceOnUse" x1="619.1" y1="1441.5" x2="441.7" y2="599"/>
<linearGradient id="b79" href="#cm" gradientUnits="userSpaceOnUse" x1="638.4" y1="1436.9" x2="446.4" y2="599.3"/>
<linearGradient id="b80" href="#cm" gradientUnits="userSpaceOnUse" x1="703.1" y1="1420.6" x2="469.4" y2="591.6"/>
<linearGradient id="b81" href="#cm" gradientUnits="userSpaceOnUse" x1="721.2" y1="1414.6" x2="463" y2="597.2"/>
<linearGradient id="b82" href="#cm" gradientUnits="userSpaceOnUse" x1="-1181.2" y1="-732" x2="1745.9" y2="3360.7"/>
<linearGradient id="b83" href="#cm" gradientUnits="userSpaceOnUse" x1="-806" y1="432.4" x2="1314.6" y2="1951.3"/>
<linearGradient id="b84" href="#cm" gradientUnits="userSpaceOnUse" x1="595.7" y1="1458.3" x2="404.3" y2="573.1"/>
<linearGradient id="b85" href="#cm" gradientUnits="userSpaceOnUse" x1="628.4" y1="1446.4" x2="360.7" y2="595.6"/>
<linearGradient id="b86" href="#cm" gradientUnits="userSpaceOnUse" x1="292" y1="1258.2" x2="379.7" y2="885.5"/>
<linearGradient id="b87" href="#cm" gradientUnits="userSpaceOnUse" x1="287.1" y1="1295.7" x2="369.6" y2="874.1"/>
<linearGradient id="b88" href="#cm" gradientUnits="userSpaceOnUse" x1="674.8" y1="1429.5" x2="455" y2="590.8"/>
<linearGradient id="b89" href="#cm" gradientUnits="userSpaceOnUse" x1="693.1" y1="1423.9" x2="451.9" y2="594.6"/>
<linearGradient id="b90" href="#cm" gradientUnits="userSpaceOnUse" x1="754.8" y1="1421.4" x2="454.2" y2="472.9"/>
<linearGradient id="b91" href="#cm" gradientUnits="userSpaceOnUse" x1="771.5" y1="1415.6" x2="446.6" y2="479"/>
<linearGradient id="b92" href="#cm" gradientUnits="userSpaceOnUse" x1="304.7" y1="1227.2" x2="447.1" y2="919.1"/>
<linearGradient id="b93" href="#cm" gradientUnits="userSpaceOnUse" x1="322" y1="1226.5" x2="482.3" y2="941.6"/>
<linearGradient id="b94" href="#cm" gradientUnits="userSpaceOnUse" x1="386.5" y1="1231.6" x2="542" y2="1004.6"/>
<linearGradient id="b95" href="#cm" gradientUnits="userSpaceOnUse" x1="415.1" y1="1247.7" x2="576.9" y2="1035.3"/>
<linearGradient id="b96" href="#cm" gradientUnits="userSpaceOnUse" x1="529.7" y1="1218.4" x2="505.8" y2="1236.2"/>
<linearGradient id="b97" href="#cm" gradientUnits="userSpaceOnUse" x1="546" y1="1246.8" x2="530.8" y2="1257.2"/>
<linearGradient id="b98" href="#cm" gradientUnits="userSpaceOnUse" x1="643.6" y1="1437" x2="449.8" y2="593.2"/>
<linearGradient id="b99" href="#cm" gradientUnits="userSpaceOnUse" x1="661.9" y1="1432.2" x2="452.3" y2="594.4"/>
<linearGradient id="b100" href="#cm" gradientUnits="userSpaceOnUse" x1="409" y1="1175.3" x2="304.1" y2="896.3"/>
<linearGradient id="b101" href="#cm" gradientUnits="userSpaceOnUse" x1="456.9" y1="1143.2" x2="329.1" y2="886.8"/>
<linearGradient id="b102" href="#cm" gradientUnits="userSpaceOnUse" x1="734.1" y1="1431.7" x2="394.2" y2="468.2"/>
<linearGradient id="b103" href="#cm" gradientUnits="userSpaceOnUse" x1="750.3" y1="1425.1" x2="382.4" y2="478.3"/>
<linearGradient id="b104" href="#cm" gradientUnits="userSpaceOnUse" x1="391.4" y1="1201" x2="264.8" y2="906.3"/>
<linearGradient id="b105" href="#cm" gradientUnits="userSpaceOnUse" x1="376.3" y1="1219" x2="299.7" y2="891.9"/>
<linearGradient id="b106" href="#cm" gradientUnits="userSpaceOnUse" x1="232.6" y1="1078.1" x2="231.5" y2="1077.4"/>
<linearGradient id="b107" href="#cm" gradientUnits="userSpaceOnUse" x1="263.5" y1="1047.3" x2="243.5" y2="1037.5"/>
<linearGradient id="b108" href="#cm" gradientUnits="userSpaceOnUse" x1="-124.8" y1="1050" x2="545.5" y2="1199.7"/>
<linearGradient id="b109" href="#cm" gradientUnits="userSpaceOnUse" x1="158.6" y1="1087.8" x2="273" y2="1113.4"/>
<linearGradient id="b110" href="#cm" gradientUnits="userSpaceOnUse" x1="333.8" y1="1090.9" x2="228.5" y2="989.4"/>
<linearGradient id="b111" href="#cm" gradientUnits="userSpaceOnUse" x1="366.3" y1="1042" x2="256.7" y2="959.5"/>
<linearGradient id="b112" href="#cm" gradientUnits="userSpaceOnUse" x1="630" y1="1445.5" x2="363.3" y2="596.5"/>
<linearGradient id="b113" href="#cm" gradientUnits="userSpaceOnUse" x1="644.4" y1="1440.8" x2="374.8" y2="593.4"/>
<linearGradient id="b114" href="#cm" gradientUnits="userSpaceOnUse" x1="-1694.9" y1="1349.2" x2="2354.5" y2="896.2"/>
<linearGradient id="b115" href="#cm" gradientUnits="userSpaceOnUse" x1="-132.7" y1="1078.2" x2="547.1" y2="1203.7"/>
<linearGradient id="b116" href="#cm" gradientUnits="userSpaceOnUse" x1="705.3" y1="1441.8" x2="396.1" y2="465.3"/>
<linearGradient id="b117" href="#cm" gradientUnits="userSpaceOnUse" x1="722.3" y1="1435.6" x2="388.7" y2="472"/>
<linearGradient id="b118" href="#cm" gradientUnits="userSpaceOnUse" x1="774.8" y1="1414.4" x2="449.8" y2="477.8"/>
<linearGradient id="b119" href="#cm" gradientUnits="userSpaceOnUse" x1="789.3" y1="1409" x2="438.9" y2="486.6"/>
<linearGradient id="b120" href="#cm" gradientUnits="userSpaceOnUse" x1="421.6" y1="1255.2" x2="583.5" y2="1036.9"/>
<linearGradient id="b121" href="#cm" gradientUnits="userSpaceOnUse" x1="453.4" y1="1277.5" x2="617.8" y2="1065.4"/>
<linearGradient id="b122" href="#cm" gradientUnits="userSpaceOnUse" x1="324.8" y1="1229.1" x2="484.6" y2="942.4"/>
<linearGradient id="b123" href="#cm" gradientUnits="userSpaceOnUse" x1="350.3" y1="1236.9" x2="521.1" y2="967.9"/>
<linearGradient id="b124" href="#cm" gradientUnits="userSpaceOnUse" x1="248.5" y1="1240.5" x2="388.7" y2="883.7"/>
<linearGradient id="b125" href="#cm" gradientUnits="userSpaceOnUse" x1="264" y1="1238.3" x2="421" y2="898.6"/>
<linearGradient id="b126" href="#cm" gradientUnits="userSpaceOnUse" x1="564" y1="1263.2" x2="527.1" y2="1285.8"/>
<linearGradient id="b127" href="#cm" gradientUnits="userSpaceOnUse" x1="580.9" y1="1294.5" x2="550" y2="1312.7"/>
<linearGradient id="b128" href="#cm" gradientUnits="userSpaceOnUse" x1="672.5" y1="1449.9" x2="417.7" y2="468.6"/>
<linearGradient id="b129" href="#cm" gradientUnits="userSpaceOnUse" x1="690.3" y1="1444.8" x2="417.7" y2="470.8"/>
<linearGradient id="b130" href="#cm" gradientUnits="userSpaceOnUse" x1="752.2" y1="1424.5" x2="383.3" y2="476.2"/>
<linearGradient id="b131" href="#cm" gradientUnits="userSpaceOnUse" x1="766" y1="1418.6" x2="368" y2="490"/>
<linearGradient id="b132" href="#cm" gradientUnits="userSpaceOnUse" x1="651.3" y1="1450" x2="342.6" y2="530.7"/>
<linearGradient id="b133" href="#cm" gradientUnits="userSpaceOnUse" x1="654.8" y1="1451.1" x2="464.5" y2="482.2"/>
<linearGradient id="b134" href="#cm" gradientUnits="userSpaceOnUse" x1="725.1" y1="1434.7" x2="391.1" y2="470.4"/>
<linearGradient id="b135" href="#cm" gradientUnits="userSpaceOnUse" x1="740.1" y1="1429" x2="380.4" y2="479.7"/>
<linearGradient id="b136" href="#cm" gradientUnits="userSpaceOnUse" x1="1.3" y1="1440.1" x2="363.5" y2="874.9"/>
<linearGradient id="b137" href="#cm" gradientUnits="userSpaceOnUse" x1="102.7" y1="1566.1" x2="373.3" y2="877.6"/>
<linearGradient id="b138" href="#cm" gradientUnits="userSpaceOnUse" x1="-236.3" y1="1778.8" x2="371.4" y2="842.3"/>
<linearGradient id="b139" href="#cm" gradientUnits="userSpaceOnUse" x1="-291.1" y1="1531.3" x2="386.7" y2="872.3"/>
<linearGradient id="b140" href="#cm" gradientUnits="userSpaceOnUse" x1="66.6" y1="1113.7" x2="345.9" y2="1087.2"/>
<linearGradient id="b141" href="#cm" gradientUnits="userSpaceOnUse" x1="54.7" y1="1086.1" x2="348.4" y2="1054.8"/>
<linearGradient id="b142" href="#cm" gradientUnits="userSpaceOnUse" x1="461.5" y1="1279.3" x2="625.2" y2="1078.4"/>
<linearGradient id="b143" href="#cm" gradientUnits="userSpaceOnUse" x1="494.6" y1="1305.2" x2="661" y2="1111.8"/>
<linearGradient id="b144" href="#cm" gradientUnits="userSpaceOnUse" x1="34.7" y1="1077.6" x2="350.8" y2="1013"/>
<linearGradient id="b145" href="#cm" gradientUnits="userSpaceOnUse" x1="-60.6" y1="1120.3" x2="375.7" y2="968.3"/>
<linearGradient id="b146" href="#cm" gradientUnits="userSpaceOnUse" x1="187.5" y1="1127.9" x2="206.6" y2="1152.1"/>
<linearGradient id="b147" href="#cm" gradientUnits="userSpaceOnUse" x1="220.5" y1="1126" x2="212.1" y2="1118.7"/>
<linearGradient id="b148" href="#cm" gradientUnits="userSpaceOnUse" x1="-26.1" y1="1217.1" x2="351.9" y2="916.6"/>
<linearGradient id="b149" href="#cm" gradientUnits="userSpaceOnUse" x1="37.3" y1="1470.6" x2="344.3" y2="875.5"/>
<linearGradient id="b150" href="#cm" gradientUnits="userSpaceOnUse" x1="584.1" y1="1321.2" x2="608.1" y2="1302.2"/>
<linearGradient id="b151" href="#cm" gradientUnits="userSpaceOnUse" x1="604.8" y1="1350.7" x2="636.5" y2="1327.4"/>
<linearGradient id="b152" href="#cm" gradientUnits="userSpaceOnUse" x1="694.8" y1="1443.5" x2="422.5" y2="470.4"/>
<linearGradient id="b153" href="#cm" gradientUnits="userSpaceOnUse" x1="711.4" y1="1438.5" x2="420" y2="473.9"/>
<linearGradient id="b154" href="#cm" gradientUnits="userSpaceOnUse" x1="355.6" y1="1246" x2="524.3" y2="966.8"/>
<linearGradient id="b155" href="#cm" gradientUnits="userSpaceOnUse" x1="384.7" y1="1258" x2="562.7" y2="995.3"/>
<linearGradient id="b156" href="#cm" gradientUnits="userSpaceOnUse" x1="276" y1="1260.8" x2="419.4" y2="895.8"/>
<linearGradient id="b157" href="#cm" gradientUnits="userSpaceOnUse" x1="282.8" y1="1247.6" x2="455.7" y2="914.5"/>
<linearGradient id="b158" href="#cm" gradientUnits="userSpaceOnUse" x1="671.3" y1="1447.2" x2="482.1" y2="486.4"/>
<linearGradient id="b159" href="#cm" gradientUnits="userSpaceOnUse" x1="672.9" y1="1449.6" x2="414.1" y2="448.1"/>
<linearGradient id="b160" href="#cm" gradientUnits="userSpaceOnUse" x1="95.8" y1="1573.2" x2="388.8" y2="883.7"/>
<linearGradient id="b161" href="#cm" gradientUnits="userSpaceOnUse" x1="127" y1="1595" x2="404.2" y2="889.8"/>
<linearGradient id="b162" href="#cm" gradientUnits="userSpaceOnUse" x1="506.4" y1="1306.1" x2="668.2" y2="1137.7"/>
<linearGradient id="b163" href="#cm" gradientUnits="userSpaceOnUse" x1="541.6" y1="1340.9" x2="698.8" y2="1159.6"/>
<linearGradient id="b164" href="#cm" gradientUnits="userSpaceOnUse" x1="613.5" y1="1374.5" x2="689.2" y2="1300.4"/>
<linearGradient id="b165" href="#cm" gradientUnits="userSpaceOnUse" x1="637.8" y1="1401.8" x2="721.8" y2="1328.5"/>
<linearGradient id="b166" href="#cm" gradientUnits="userSpaceOnUse" x1="11.4" y1="1638.9" x2="376.3" y2="872.9"/>
<linearGradient id="b167" href="#cm" gradientUnits="userSpaceOnUse" x1="52.1" y1="1673.4" x2="390.1" y2="877.9"/>
<linearGradient id="b168" href="#cm" gradientUnits="userSpaceOnUse" x1="391" y1="1270.3" x2="566.6" y2="992.6"/>
<linearGradient id="b169" href="#cm" gradientUnits="userSpaceOnUse" x1="422.2" y1="1284.1" x2="607.9" y2="1025.7"/>
<linearGradient id="b170" href="#cm" gradientUnits="userSpaceOnUse" x1="40.5" y1="1474.6" x2="362.2" y2="884.6"/>
<linearGradient id="b171" href="#cm" gradientUnits="userSpaceOnUse" x1="77.9" y1="1513" x2="370.9" y2="886.1"/>
<linearGradient id="b172" href="#cm" gradientUnits="userSpaceOnUse" x1="293.8" y1="1270.1" x2="455.1" y2="911.8"/>
<linearGradient id="b173" href="#cm" gradientUnits="userSpaceOnUse" x1="312" y1="1266.4" x2="494.4" y2="933.4"/>
<linearGradient id="b174" href="#cm" gradientUnits="userSpaceOnUse" x1="-7.7" y1="1379.8" x2="372.1" y2="907.5"/>
<linearGradient id="b175" href="#cm" gradientUnits="userSpaceOnUse" x1="44" y1="1480.3" x2="368" y2="887"/>
<linearGradient id="b176" href="#cm" gradientUnits="userSpaceOnUse" x1="-11.8" y1="1289.9" x2="390.6" y2="963.9"/>
<linearGradient id="b177" href="#cm" gradientUnits="userSpaceOnUse" x1="-8.2" y1="1393.4" x2="388.1" y2="915.7"/>
<linearGradient id="b178" href="#cm" gradientUnits="userSpaceOnUse" x1="-112.2" y1="1221.4" x2="473.4" y2="1049.2"/>
<linearGradient id="b179" href="#cm" gradientUnits="userSpaceOnUse" x1="-91.4" y1="1194.4" x2="454.9" y2="1053"/>
<linearGradient id="b180" href="#cm" gradientUnits="userSpaceOnUse" x1="554.9" y1="1344.5" x2="705.8" y2="1189.6"/>
<linearGradient id="b181" href="#cm" gradientUnits="userSpaceOnUse" x1="588.1" y1="1376.7" x2="732.7" y2="1209.2"/>
<linearGradient id="b182" href="#cm" gradientUnits="userSpaceOnUse" x1="245.2" y1="1584.4" x2="425.2" y2="897.4"/>
<linearGradient id="b183" href="#cm" gradientUnits="userSpaceOnUse" x1="184" y1="1671.5" x2="432.3" y2="895.6"/>
<linearGradient id="b184" href="#cm" gradientUnits="userSpaceOnUse" x1="428.4" y1="1283.5" x2="614.9" y2="1034.9"/>
<linearGradient id="b185" href="#cm" gradientUnits="userSpaceOnUse" x1="466.1" y1="1308.4" x2="657.6" y2="1072.3"/>
<linearGradient id="b186" href="#cm" gradientUnits="userSpaceOnUse" x1="158" y1="1663.1" x2="406.3" y2="887.3"/>
<linearGradient id="b187" href="#cm" gradientUnits="userSpaceOnUse" x1="108.8" y1="1724.5" x2="415" y2="883.8"/>
<linearGradient id="b188" href="#cm" gradientUnits="userSpaceOnUse" x1="319.5" y1="1281.7" x2="494.9" y2="931.7"/>
<linearGradient id="b189" href="#cm" gradientUnits="userSpaceOnUse" x1="346.9" y1="1287.3" x2="536.3" y2="955.8"/>
<linearGradient id="b190" href="#cm" gradientUnits="userSpaceOnUse" x1="129.4" y1="1527.4" x2="388.1" y2="894.7"/>
<linearGradient id="b191" href="#cm" gradientUnits="userSpaceOnUse" x1="127.3" y1="1534.6" x2="396.6" y2="897"/>
<linearGradient id="b192" href="#cm" gradientUnits="userSpaceOnUse" x1="113.4" y1="1505.2" x2="377" y2="893.4"/>
<linearGradient id="b193" href="#cm" gradientUnits="userSpaceOnUse" x1="52.8" y1="1529.1" x2="402.8" y2="891.9"/>
<linearGradient id="b194" href="#cm" gradientUnits="userSpaceOnUse" x1="-0.8" y1="1396.5" x2="407.2" y2="933.4"/>
<linearGradient id="b195" href="#cm" gradientUnits="userSpaceOnUse" x1="53.6" y1="1516.7" x2="396.4" y2="892.5"/>
<linearGradient id="b196" href="#cm" gradientUnits="userSpaceOnUse" x1="-63.9" y1="1159.1" x2="440.8" y2="1089.4"/>
<linearGradient id="b197" href="#cm" gradientUnits="userSpaceOnUse" x1="-330.5" y1="1352.4" x2="586.1" y2="973.1"/>
<linearGradient id="b198" href="#cm" gradientUnits="userSpaceOnUse" x1="475.7" y1="1308.5" x2="666.5" y2="1088.2"/>
<linearGradient id="b199" href="#cm" gradientUnits="userSpaceOnUse" x1="517.6" y1="1346.4" x2="705.6" y2="1118.4"/>
<linearGradient id="b200" href="#cm" gradientUnits="userSpaceOnUse" x1="330.2" y1="1628.8" x2="460" y2="905.7"/>
<linearGradient id="b201" href="#cm" gradientUnits="userSpaceOnUse" x1="293.7" y1="1788.4" x2="466.2" y2="896.5"/>
<linearGradient id="b202" href="#cm" gradientUnits="userSpaceOnUse" x1="355.9" y1="1305.8" x2="537" y2="953"/>
<linearGradient id="b203" href="#cm" gradientUnits="userSpaceOnUse" x1="380.6" y1="1305.1" x2="583.9" y2="983.9"/>
<linearGradient id="b204" href="#cm" gradientUnits="userSpaceOnUse" x1="244.3" y1="1693.3" x2="437.6" y2="896.8"/>
<linearGradient id="b205" href="#cm" gradientUnits="userSpaceOnUse" x1="161.6" y1="1861.8" x2="450.1" y2="881.4"/>
<linearGradient id="b206" href="#cm" gradientUnits="userSpaceOnUse" x1="169.4" y1="1547.8" x2="421.6" y2="907.8"/>
<linearGradient id="b207" href="#cm" gradientUnits="userSpaceOnUse" x1="154" y1="1562.3" x2="433.2" y2="909.2"/>
<linearGradient id="b208" href="#cm" gradientUnits="userSpaceOnUse" x1="133.8" y1="1555" x2="413.3" y2="900.4"/>
<linearGradient id="b209" href="#cm" gradientUnits="userSpaceOnUse" x1="61.3" y1="1589.9" x2="442.7" y2="895.5"/>
<linearGradient id="b210" href="#cm" gradientUnits="userSpaceOnUse" x1="74.3" y1="1528.1" x2="417.2" y2="903.9"/>
<linearGradient id="b211" href="#cm" gradientUnits="userSpaceOnUse" x1="57.9" y1="1536.5" x2="435.8" y2="907.6"/>
<linearGradient id="b212" href="#cm" gradientUnits="userSpaceOnUse" x1="28.1" y1="980.2" x2="404.7" y2="1175.3"/>
<linearGradient id="b213" href="#cm" gradientUnits="userSpaceOnUse" x1="748.1" y1="365.1" x2="94.1" y2="1453.5"/>
<linearGradient id="b214" href="#cm" gradientUnits="userSpaceOnUse" x1="394.7" y1="1731.3" x2="496.5" y2="906.7"/>
<linearGradient id="b215" href="#cm" gradientUnits="userSpaceOnUse" x1="402" y1="1902.1" x2="498.9" y2="890.8"/>
<linearGradient id="b216" href="#cm" gradientUnits="userSpaceOnUse" x1="393" y1="1334.1" x2="583.7" y2="977"/>
<linearGradient id="b217" href="#cm" gradientUnits="userSpaceOnUse" x1="421.7" y1="1334.8" x2="637.3" y2="1015.6"/>
<linearGradient id="b218" href="#cm" gradientUnits="userSpaceOnUse" x1="317.5" y1="1783.5" x2="471.6" y2="898.3"/>
<linearGradient id="b219" href="#cm" gradientUnits="userSpaceOnUse" x1="301.7" y1="1894" x2="477.2" y2="885.7"/>
<linearGradient id="b220" href="#cm" gradientUnits="userSpaceOnUse" x1="225.6" y1="1578.2" x2="455.6" y2="919.8"/>
<linearGradient id="b221" href="#cm" gradientUnits="userSpaceOnUse" x1="198.5" y1="1605.4" x2="470.1" y2="918.3"/>
<linearGradient id="b222" href="#cm" gradientUnits="userSpaceOnUse" x1="173.5" y1="1614.6" x2="447.4" y2="905"/>
<linearGradient id="b223" href="#cm" gradientUnits="userSpaceOnUse" x1="47.3" y1="1696.4" x2="492.5" y2="885.9"/>
<linearGradient id="b224" href="#cm" gradientUnits="userSpaceOnUse" x1="100.1" y1="1558" x2="451.8" y2="917.8"/>
<linearGradient id="b225" href="#cm" gradientUnits="userSpaceOnUse" x1="165.5" y1="1547.8" x2="440" y2="928.7"/>
<linearGradient id="b226" href="#cm" gradientUnits="userSpaceOnUse" x1="2125" y1="1248.3" x2="-531.2" y2="1064.7"/>
<linearGradient id="b227" href="#cm" gradientUnits="userSpaceOnUse" x1="1249.6" y1="1197.9" x2="-117.6" y2="1103.4"/>
<linearGradient id="b228" href="#cm" gradientUnits="userSpaceOnUse" x1="489.9" y1="1811.2" x2="529.3" y2="903.6"/>
<linearGradient id="b229" href="#cm" gradientUnits="userSpaceOnUse" x1="523.3" y1="1908.8" x2="526.9" y2="890.4"/>
<linearGradient id="b230" href="#cm" gradientUnits="userSpaceOnUse" x1="412.9" y1="1811.9" x2="503.6" y2="902.2"/>
<linearGradient id="b231" href="#cm" gradientUnits="userSpaceOnUse" x1="448.3" y1="2034.8" x2="500.8" y2="867.6"/>
<linearGradient id="b232" href="#cm" gradientUnits="userSpaceOnUse" x1="268.9" y1="1618.2" x2="494.9" y2="929.7"/>
<linearGradient id="b233" href="#cm" gradientUnits="userSpaceOnUse" x1="226.2" y1="1665.3" x2="513.8" y2="923.2"/>
<linearGradient id="b234" href="#cm" gradientUnits="userSpaceOnUse" x1="196.4" y1="1709.9" x2="488.9" y2="899.3"/>
<linearGradient id="b235" href="#cm" gradientUnits="userSpaceOnUse" x1="-9.4" y1="1884.9" x2="558.6" y2="850.9"/>
<linearGradient id="b236" href="#cm" gradientUnits="userSpaceOnUse" x1="154.4" y1="1544.7" x2="481.9" y2="948.4"/>
<linearGradient id="b237" href="#cm" gradientUnits="userSpaceOnUse" x1="179.3" y1="1550.6" x2="489.1" y2="955.3"/>
<linearGradient id="b238" href="#cm" gradientUnits="userSpaceOnUse" x1="759.9" y1="796.6" x2="136.4" y2="1329.6"/>
<linearGradient id="b239" href="#cm" gradientUnits="userSpaceOnUse" x1="758" y1="889.8" x2="159.6" y2="1310.4"/>
</defs>
<rect width="995" height="1558" fill="#fff"/>
<line class="g" x1="123.7" y1="98.3" x2="545.5" y2="54.9"/>
<line class="g" x1="545.5" y1="54.9" x2="833.1" y2="154.3"/>
<line class="g" x1="127.3" y1="211.5" x2="542.5" y2="157.8"/>
<line class="g" x1="542.5" y1="157.8" x2="824.5" y2="275.4"/>
<line class="g" x1="130.7" y1="321.1" x2="539.6" y2="257.7"/>
<line class="g" x1="539.6" y1="257.7" x2="816.3" y2="392.3"/>
<line class="g" x1="134" y1="427.3" x2="536.8" y2="354.8"/>
<line class="g" x1="536.8" y1="354.8" x2="808.3" y2="505.2"/>
<line class="g" x1="243.5" y1="483.5" x2="236.7" y2="30"/>
<line class="g" x1="243.5" y1="483.5" x2="476.7" y2="671.5"/>
<line class="g" x1="345.3" y1="463.3" x2="345.6" y2="20.3"/>
<line class="g" x1="345.3" y1="463.3" x2="591.6" y2="641.8"/>
<line class="g" x1="442.3" y1="444.1" x2="448.8" y2="11.1"/>
<line class="g" x1="442.3" y1="444.1" x2="700" y2="613.9"/>
<line class="g" x1="593.5" y1="461.3" x2="610.2" y2="21.9"/>
<line class="g" x1="183.6" y1="547.6" x2="593.5" y2="461.3"/>
<line class="g" x1="657.3" y1="499.8" x2="679.1" y2="43.2"/>
<line class="g" x1="235.2" y1="594.5" x2="657.3" y2="499.8"/>
<line class="g" x1="726.6" y1="541.7" x2="754.6" y2="66.5"/>
<line class="g" x1="292" y1="646.1" x2="726.6" y2="541.7"/>
<line class="f" x1="121.9" y1="40.3" x2="547" y2="2.4"/>
<line class="f" x1="547" y1="2.4" x2="837.5" y2="92.2"/>
<line class="f" x1="534.7" y1="425.8" x2="547" y2="2.4"/>
<line class="f" x1="802.4" y1="587.5" x2="837.5" y2="92.2"/>
<line class="f" x1="136.4" y1="504.8" x2="534.7" y2="425.8"/>
<line class="f" x1="534.7" y1="425.8" x2="802.4" y2="587.5"/>
<g class="s"><polygon points="516.2,266.3 539.5,262.6 545.3,289" fill="url(#a0)" stroke="url(#a0)"/><polygon points="539.5,262.6 568.8,285.1 545.3,289" fill="url(#a1)" stroke="url(#a1)"/><path d="M516.2 266.3 L539.5 262.6 L568.8 285.1 L545.3 289Z"/><polygon points="492.7,269.9 516.2,266.3 521.5,292.9" fill="url(#a2)" stroke="url(#a2)"/><polygon points="516.2,266.3 545.3,289 521.5,292.9" fill="url(#a3)" stroke="url(#a3)"/><path d="M492.7 269.9 L516.2 266.3 L545.3 289 L521.5 292.9Z"/><polygon points="468.9,273.7 492.7,269.9 521.5,292.9" fill="url(#a4)" stroke="url(#a4)"/><polygon points="468.9,273.7 521.5,292.9 497.4,296.8" fill="url(#a5)" stroke="url(#a5)"/><path d="M468.9 273.7 L492.7 269.9 L521.5 292.9 L497.4 296.8ZM468.9 273.7L521.5 292.9"/><polygon points="444.8,275.4 468.9,273.7 473.3,287.5" fill="url(#a6)" stroke="url(#a6)"/><polygon points="468.9,273.7 497.4,296.8 473.3,287.5" fill="url(#a7)" stroke="url(#a7)"/><path d="M444.8 275.4 L468.9 273.7 L497.4 296.8 L473.3 287.5Z"/><polygon points="545.3,289 568.8,285.1 575.4,315.6" fill="url(#a8)" stroke="url(#a8)"/><polygon points="568.8,285.1 599.2,311.6 575.4,315.6" fill="url(#a9)" stroke="url(#a9)"/><path d="M545.3 289 L568.8 285.1 L599.2 311.6 L575.4 315.6Z"/><polygon points="521.5,292.9 545.3,289 551.4,319.8" fill="url(#a10)" stroke="url(#a10)"/><polygon points="545.3,289 575.4,315.6 551.4,319.8" fill="url(#a11)" stroke="url(#a11)"/><path d="M521.5 292.9 L545.3 289 L575.4 315.6 L551.4 319.8Z"/><polygon points="420.6,261 444.8,275.4 473.3,287.5" fill="url(#a12)" stroke="url(#a12)"/><polygon points="420.6,261 473.3,287.5 450.5,165.4" fill="url(#a13)" stroke="url(#a13)"/><path d="M420.6 261 L444.8 275.4 L473.3 287.5 L450.5 165.4ZM420.6 261L473.3 287.5"/><polygon points="497.4,296.8 521.5,292.9 527,324" fill="url(#a14)" stroke="url(#a14)"/><polygon points="521.5,292.9 551.4,319.8 527,324" fill="url(#a15)" stroke="url(#a15)"/><path d="M497.4 296.8 L521.5 292.9 L551.4 319.8 L527 324ZM521.5 292.9L527 324"/><polygon points="575.4,315.6 599.2,311.6 630.6,342.1" fill="url(#a16)" stroke="url(#a16)"/><polygon points="575.4,315.6 630.6,342.1 606.6,346.5" fill="url(#a17)" stroke="url(#a17)"/><path d="M575.4 315.6 L599.2 311.6 L630.6 342.1 L606.6 346.5Z"/><polygon points="473.3,287.5 497.4,296.8 527,324" fill="url(#a18)" stroke="url(#a18)"/><polygon points="473.3,287.5 527,324 503.7,271.7" fill="url(#a19)" stroke="url(#a19)"/><path d="M473.3 287.5 L497.4 296.8 L527 324 L503.7 271.7Z"/><polygon points="551.4,319.8 575.4,315.6 582.3,350.9" fill="url(#a20)" stroke="url(#a20)"/><polygon points="575.4,315.6 606.6,346.5 582.3,350.9" fill="url(#a21)" stroke="url(#a21)"/><path d="M551.4 319.8 L575.4 315.6 L606.6 346.5 L582.3 350.9ZM575.4 315.6L582.3 350.9"/><polygon points="396.2,228.7 420.6,261 450.5,165.4" fill="url(#a22)" stroke="url(#a22)"/><polygon points="396.2,228.7 450.5,165.4 425.7,109" fill="url(#a23)" stroke="url(#a23)"/><path d="M396.2 228.7 L420.6 261 L450.5 165.4 L425.7 109Z"/><polygon points="527,324 551.4,319.8 582.3,350.9" fill="url(#a24)" stroke="url(#a24)"/><polygon points="527,324 582.3,350.9 557.6,356.4" fill="url(#a25)" stroke="url(#a25)"/><path d="M527 324 L551.4 319.8 L582.3 350.9 L557.6 356.4ZM527 324L582.3 350.9"/><polygon points="371,232.3 396.2,228.7 425.7,109" fill="url(#a26)" stroke="url(#a26)"/><polygon points="371,232.3 425.7,109 399.7,106.4" fill="url(#a27)" stroke="url(#a27)"/><path d="M371 232.3 L396.2 228.7 L425.7 109 L399.7 106.4Z"/><polygon points="450.5,165.4 473.3,287.5 503.7,271.7" fill="url(#a28)" stroke="url(#a28)"/><polygon points="450.5,165.4 503.7,271.7 480.1,195.2" fill="url(#a29)" stroke="url(#a29)"/><path d="M450.5 165.4 L473.3 287.5 L503.7 271.7 L480.1 195.2Z"/><polygon points="606.6,346.5 630.6,342.1 639,379.5" fill="url(#a30)" stroke="url(#a30)"/><polygon points="630.6,342.1 663.2,374.9 639,379.5" fill="url(#a31)" stroke="url(#a31)"/><path d="M606.6 346.5 L630.6 342.1 L663.2 374.9 L639 379.5ZM630.6 342.1L639 379.5"/><polygon points="503.7,271.7 527,324 532.9,351.4" fill="url(#a32)" stroke="url(#a32)"/><polygon points="527,324 557.6,356.4 532.9,351.4" fill="url(#a33)" stroke="url(#a33)"/><path d="M503.7 271.7 L527 324 L557.6 356.4 L532.9 351.4Z"/><polygon points="345.4,241.2 371,232.3 373.2,120.5" fill="url(#a34)" stroke="url(#a34)"/><polygon points="371,232.3 399.7,106.4 373.2,120.5" fill="url(#a35)" stroke="url(#a35)"/><path d="M345.4 241.2 L371 232.3 L399.7 106.4 L373.2 120.5ZM371 232.3L373.2 120.5"/><polygon points="582.3,350.9 606.6,346.5 639,379.5" fill="url(#a36)" stroke="url(#a36)"/><polygon points="582.3,350.9 639,379.5 614.3,385.3" fill="url(#a37)" stroke="url(#a37)"/><path d="M582.3 350.9 L606.6 346.5 L639 379.5 L614.3 385.3Z"/><polygon points="319.6,250.1 345.4,241.2 346.5,145.7" fill="url(#a38)" stroke="url(#a38)"/><polygon points="345.4,241.2 373.2,120.5 346.5,145.7" fill="url(#a39)" stroke="url(#a39)"/><path d="M319.6 250.1 L345.4 241.2 L373.2 120.5 L346.5 145.7Z"/><polygon points="557.6,356.4 582.3,350.9 614.3,385.3" fill="url(#a40)" stroke="url(#a40)"/><polygon points="557.6,356.4 614.3,385.3 589.4,391.1" fill="url(#a41)" stroke="url(#a41)"/><path d="M557.6 356.4 L582.3 350.9 L614.3 385.3 L589.4 391.1Z"/><polygon points="293.5,259.2 319.6,250.1 319.6,182.2" fill="url(#a42)" stroke="url(#a42)"/><polygon points="319.6,250.1 346.5,145.7 319.6,182.2" fill="url(#a43)" stroke="url(#a43)"/><path d="M293.5 259.2 L319.6 250.1 L346.5 145.7 L319.6 182.2Z"/><polygon points="267.1,268.3 293.5,259.2 292.7,229.8" fill="url(#a44)" stroke="url(#a44)"/><polygon points="293.5,259.2 319.6,182.2 292.7,229.8" fill="url(#a45)" stroke="url(#a45)"/><path d="M267.1 268.3 L293.5 259.2 L319.6 182.2 L292.7 229.8Z"/><polygon points="480.1,195.2 503.7,271.7 509.7,270" fill="url(#a46)" stroke="url(#a46)"/><polygon points="503.7,271.7 532.9,351.4 509.7,270" fill="url(#a47)" stroke="url(#a47)"/><path d="M480.1 195.2 L503.7 271.7 L532.9 351.4 L509.7 270Z"/><polygon points="425.7,109 450.5,165.4 455.2,143.7" fill="url(#a48)" stroke="url(#a48)"/><polygon points="450.5,165.4 480.1,195.2 455.2,143.7" fill="url(#a49)" stroke="url(#a49)"/><path d="M425.7 109 L450.5 165.4 L480.1 195.2 L455.2 143.7Z"/><polygon points="639,379.5 663.2,374.9 696.7,417.4" fill="url(#a50)" stroke="url(#a50)"/><polygon points="639,379.5 696.7,417.4 672.2,422.4" fill="url(#a51)" stroke="url(#a51)"/><path d="M639 379.5 L663.2 374.9 L696.7 417.4 L672.2 422.4Z"/><polygon points="532.9,351.4 557.6,356.4 564.5,385.3" fill="url(#a52)" stroke="url(#a52)"/><polygon points="557.6,356.4 589.4,391.1 564.5,385.3" fill="url(#a53)" stroke="url(#a53)"/><path d="M532.9 351.4 L557.6 356.4 L589.4 391.1 L564.5 385.3ZM557.6 356.4L564.5 385.3"/><polygon points="240.4,279.7 267.1,268.3 265.7,271.9" fill="url(#a54)" stroke="url(#a54)"/><polygon points="267.1,268.3 292.7,229.8 265.7,271.9" fill="url(#a55)" stroke="url(#a55)"/><path d="M240.4 279.7 L267.1 268.3 L292.7 229.8 L265.7 271.9Z"/><polygon points="213.5,291.2 240.4,279.7 238.4,297.9" fill="url(#a56)" stroke="url(#a56)"/><polygon points="240.4,279.7 265.7,271.9 238.4,297.9" fill="url(#a57)" stroke="url(#a57)"/><path d="M213.5 291.2 L240.4 279.7 L265.7 271.9 L238.4 297.9ZM240.4 279.7L238.4 297.9"/><polygon points="614.3,385.3 639,379.5 672.2,422.4" fill="url(#a58)" stroke="url(#a58)"/><polygon points="614.3,385.3 672.2,422.4 647.3,428.6" fill="url(#a59)" stroke="url(#a59)"/><path d="M614.3 385.3 L639 379.5 L672.2 422.4 L647.3 428.6Z"/><polygon points="186.2,300.7 213.5,291.2 210.7,313.1" fill="url(#a60)" stroke="url(#a60)"/><polygon points="213.5,291.2 238.4,297.9 210.7,313.1" fill="url(#a61)" stroke="url(#a61)"/><path d="M186.2 300.7 L213.5 291.2 L238.4 297.9 L210.7 313.1Z"/><polygon points="399.7,106.4 425.7,109 429.4,101.9" fill="url(#a62)" stroke="url(#a62)"/><polygon points="425.7,109 455.2,143.7 429.4,101.9" fill="url(#a63)" stroke="url(#a63)"/><path d="M399.7 106.4 L425.7 109 L455.2 143.7 L429.4 101.9Z"/><polygon points="589.4,391.1 614.3,385.3 647.3,428.6" fill="url(#a64)" stroke="url(#a64)"/><polygon points="589.4,391.1 647.3,428.6 622.1,434.8" fill="url(#a65)" stroke="url(#a65)"/><path d="M589.4 391.1 L614.3 385.3 L647.3 428.6 L622.1 434.8Z"/><polygon points="509.7,270 532.9,351.4 540.6,330.4" fill="url(#a66)" stroke="url(#a66)"/><polygon points="532.9,351.4 564.5,385.3 540.6,330.4" fill="url(#a67)" stroke="url(#a67)"/><path d="M509.7 270 L532.9 351.4 L564.5 385.3 L540.6 330.4Z"/><polygon points="158.6,311.4 186.2,300.7 182.6,325.2" fill="url(#a68)" stroke="url(#a68)"/><polygon points="186.2,300.7 210.7,313.1 182.6,325.2" fill="url(#a69)" stroke="url(#a69)"/><path d="M158.6 311.4 L186.2 300.7 L210.7 313.1 L182.6 325.2Z"/><polygon points="455.2,143.7 480.1,195.2 485.2,202.1" fill="url(#a70)" stroke="url(#a70)"/><polygon points="480.1,195.2 509.7,270 485.2,202.1" fill="url(#a71)" stroke="url(#a71)"/><path d="M455.2 143.7 L480.1 195.2 L509.7 270 L485.2 202.1Z"/><polygon points="672.2,422.4 696.7,417.4 731.2,464.7" fill="url(#a72)" stroke="url(#a72)"/><polygon points="672.2,422.4 731.2,464.7 706.4,471.2" fill="url(#a73)" stroke="url(#a73)"/><path d="M672.2 422.4 L696.7 417.4 L731.2 464.7 L706.4 471.2Z"/><polygon points="564.5,385.3 589.4,391.1 596.7,436.8" fill="url(#a74)" stroke="url(#a74)"/><polygon points="589.4,391.1 622.1,434.8 596.7,436.8" fill="url(#a75)" stroke="url(#a75)"/><path d="M564.5 385.3 L589.4 391.1 L622.1 434.8 L596.7 436.8Z"/><polygon points="373.2,120.5 399.7,106.4 429.4,101.9" fill="url(#a76)" stroke="url(#a76)"/><polygon points="373.2,120.5 429.4,101.9 402.7,80.9" fill="url(#a77)" stroke="url(#a77)"/><path d="M373.2 120.5 L399.7 106.4 L429.4 101.9 L402.7 80.9Z"/><polygon points="647.3,428.6 672.2,422.4 706.4,471.2" fill="url(#a78)" stroke="url(#a78)"/><polygon points="647.3,428.6 706.4,471.2 681.3,477.8" fill="url(#a79)" stroke="url(#a79)"/><path d="M647.3 428.6 L672.2 422.4 L706.4 471.2 L681.3 477.8Z"/><polygon points="346.5,145.7 373.2,120.5 375.3,90.8" fill="url(#a80)" stroke="url(#a80)"/><polygon points="373.2,120.5 402.7,80.9 375.3,90.8" fill="url(#a81)" stroke="url(#a81)"/><path d="M346.5 145.7 L373.2 120.5 L402.7 80.9 L375.3 90.8Z"/><polygon points="319.6,182.2 346.5,145.7 347.6,116.8" fill="url(#a82)" stroke="url(#a82)"/><polygon points="346.5,145.7 375.3,90.8 347.6,116.8" fill="url(#a83)" stroke="url(#a83)"/><path d="M319.6 182.2 L346.5 145.7 L375.3 90.8 L347.6 116.8Z"/><polygon points="485.2,202.1 509.7,270 516,273.7" fill="url(#a84)" stroke="url(#a84)"/><polygon points="509.7,270 540.6,330.4 516,273.7" fill="url(#a85)" stroke="url(#a85)"/><path d="M485.2 202.1 L509.7 270 L540.6 330.4 L516 273.7Z"/><polygon points="429.4,101.9 455.2,143.7 459.6,149.1" fill="url(#a86)" stroke="url(#a86)"/><polygon points="455.2,143.7 485.2,202.1 459.6,149.1" fill="url(#a87)" stroke="url(#a87)"/><path d="M429.4 101.9 L455.2 143.7 L485.2 202.1 L459.6 149.1ZM455.2 143.7L459.6 149.1"/><polygon points="540.6,330.4 564.5,385.3 572.4,396.6" fill="url(#a88)" stroke="url(#a88)"/><polygon points="564.5,385.3 596.7,436.8 572.4,396.6" fill="url(#a89)" stroke="url(#a89)"/><path d="M540.6 330.4 L564.5 385.3 L596.7 436.8 L572.4 396.6ZM564.5 385.3L572.4 396.6"/><polygon points="622.1,434.8 647.3,428.6 681.3,477.8" fill="url(#a90)" stroke="url(#a90)"/><polygon points="622.1,434.8 681.3,477.8 655.8,484.5" fill="url(#a91)" stroke="url(#a91)"/><path d="M622.1 434.8 L647.3 428.6 L681.3 477.8 L655.8 484.5Z"/><polygon points="292.7,229.8 319.6,182.2 319.7,154.6" fill="url(#a92)" stroke="url(#a92)"/><polygon points="319.6,182.2 347.6,116.8 319.7,154.6" fill="url(#a93)" stroke="url(#a93)"/><path d="M292.7 229.8 L319.6 182.2 L347.6 116.8 L319.7 154.6Z"/><polygon points="265.7,271.9 292.7,229.8 291.9,215.3" fill="url(#a94)" stroke="url(#a94)"/><polygon points="292.7,229.8 319.7,154.6 291.9,215.3" fill="url(#a95)" stroke="url(#a95)"/><path d="M265.7 271.9 L292.7 229.8 L319.7 154.6 L291.9 215.3ZM292.7 229.8L291.9 215.3"/><polygon points="238.4,297.9 265.7,271.9 264.1,275.8" fill="url(#a96)" stroke="url(#a96)"/><polygon points="265.7,271.9 291.9,215.3 264.1,275.8" fill="url(#a97)" stroke="url(#a97)"/><path d="M238.4 297.9 L265.7 271.9 L291.9 215.3 L264.1 275.8Z"/><polygon points="210.7,313.1 238.4,297.9 236.2,319.4" fill="url(#a98)" stroke="url(#a98)"/><polygon points="238.4,297.9 264.1,275.8 236.2,319.4" fill="url(#a99)" stroke="url(#a99)"/><path d="M210.7 313.1 L238.4 297.9 L264.1 275.8 L236.2 319.4Z"/><polygon points="706.4,471.2 731.2,464.7 767.1,510.5" fill="url(#a100)" stroke="url(#a100)"/><polygon points="706.4,471.2 767.1,510.5 742.1,517.5" fill="url(#a101)" stroke="url(#a101)"/><path d="M706.4 471.2 L731.2 464.7 L767.1 510.5 L742.1 517.5Z"/><polygon points="596.7,436.8 622.1,434.8 630.3,486.9" fill="url(#a102)" stroke="url(#a102)"/><polygon points="622.1,434.8 655.8,484.5 630.3,486.9" fill="url(#a103)" stroke="url(#a103)"/><path d="M596.7 436.8 L622.1 434.8 L655.8 484.5 L630.3 486.9Z"/><polygon points="182.6,325.2 210.7,313.1 207.8,340.8" fill="url(#a104)" stroke="url(#a104)"/><polygon points="210.7,313.1 236.2,319.4 207.8,340.8" fill="url(#a105)" stroke="url(#a105)"/><path d="M182.6 325.2 L210.7 313.1 L236.2 319.4 L207.8 340.8Z"/><polygon points="681.3,477.8 706.4,471.2 742.1,517.5" fill="url(#a106)" stroke="url(#a106)"/><polygon points="681.3,477.8 742.1,517.5 716.7,525.6" fill="url(#a107)" stroke="url(#a107)"/><path d="M681.3 477.8 L706.4 471.2 L742.1 517.5 L716.7 525.6Z"/><polygon points="402.7,80.9 429.4,101.9 433.1,102.6" fill="url(#a108)" stroke="url(#a108)"/><polygon points="429.4,101.9 459.6,149.1 433.1,102.6" fill="url(#a109)" stroke="url(#a109)"/><path d="M402.7 80.9 L429.4 101.9 L459.6 149.1 L433.1 102.6ZM429.4 101.9L433.1 102.6"/><polygon points="516,273.7 540.6,330.4 547.4,358.7" fill="url(#a110)" stroke="url(#a110)"/><polygon points="540.6,330.4 572.4,396.6 547.4,358.7" fill="url(#a111)" stroke="url(#a111)"/><path d="M516 273.7 L540.6 330.4 L572.4 396.6 L547.4 358.7Z"/><polygon points="459.6,149.1 485.2,202.1 490.7,211.8" fill="url(#a112)" stroke="url(#a112)"/><polygon points="485.2,202.1 516,273.7 490.7,211.8" fill="url(#a113)" stroke="url(#a113)"/><path d="M459.6 149.1 L485.2 202.1 L516 273.7 L490.7 211.8Z"/><polygon points="572.4,396.6 596.7,436.8 605.5,458.9" fill="url(#a114)" stroke="url(#a114)"/><polygon points="596.7,436.8 630.3,486.9 605.5,458.9" fill="url(#a115)" stroke="url(#a115)"/><path d="M572.4 396.6 L596.7 436.8 L630.3 486.9 L605.5 458.9Z"/><polygon points="655.8,484.5 681.3,477.8 716.7,525.6" fill="url(#a116)" stroke="url(#a116)"/><polygon points="655.8,484.5 716.7,525.6 691,532.7" fill="url(#a117)" stroke="url(#a117)"/><path d="M655.8 484.5 L681.3 477.8 L716.7 525.6 L691 532.7Z"/><polygon points="375.3,90.8 402.7,80.9 433.1,102.6" fill="url(#a118)" stroke="url(#a118)"/><polygon points="375.3,90.8 433.1,102.6 405.6,82.1" fill="url(#a119)" stroke="url(#a119)"/><path d="M375.3 90.8 L402.7 80.9 L433.1 102.6 L405.6 82.1Z"/><polygon points="742.1,517.5 767.1,510.5 804.7,555.9" fill="url(#a120)" stroke="url(#a120)"/><polygon points="742.1,517.5 804.7,555.9 779.3,564.4" fill="url(#a121)" stroke="url(#a121)"/><path d="M742.1 517.5 L767.1 510.5 L804.7 555.9 L779.3 564.4Z"/><polygon points="630.3,486.9 655.8,484.5 665.2,535.5" fill="url(#a122)" stroke="url(#a122)"/><polygon points="655.8,484.5 691,532.7 665.2,535.5" fill="url(#a123)" stroke="url(#a123)"/><path d="M630.3 486.9 L655.8 484.5 L691 532.7 L665.2 535.5ZM655.8 484.5L665.2 535.5"/><polygon points="490.7,211.8 516,273.7 521.4,329.5" fill="url(#a124)" stroke="url(#a124)"/><polygon points="516,273.7 547.4,358.7 521.4,329.5" fill="url(#a125)" stroke="url(#a125)"/><path d="M490.7 211.8 L516 273.7 L547.4 358.7 L521.4 329.5Z"/><polygon points="347.6,116.8 375.3,90.8 377.4,86.3" fill="url(#a126)" stroke="url(#a126)"/><polygon points="375.3,90.8 405.6,82.1 377.4,86.3" fill="url(#a127)" stroke="url(#a127)"/><path d="M347.6 116.8 L375.3 90.8 L405.6 82.1 L377.4 86.3ZM375.3 90.8L377.4 86.3"/><polygon points="547.4,358.7 572.4,396.6 580.8,412.1" fill="url(#a128)" stroke="url(#a128)"/><polygon points="572.4,396.6 605.5,458.9 580.8,412.1" fill="url(#a129)" stroke="url(#a129)"/><path d="M547.4 358.7 L572.4 396.6 L605.5 458.9 L580.8 412.1Z"/><polygon points="433.1,102.6 459.6,149.1 464.3,158.4" fill="url(#a130)" stroke="url(#a130)"/><polygon points="459.6,149.1 490.7,211.8 464.3,158.4" fill="url(#a131)" stroke="url(#a131)"/><path d="M433.1 102.6 L459.6 149.1 L490.7 211.8 L464.3 158.4Z"/><polygon points="716.7,525.6 742.1,517.5 779.3,564.4" fill="url(#a132)" stroke="url(#a132)"/><polygon points="716.7,525.6 779.3,564.4 753.6,574.1" fill="url(#a133)" stroke="url(#a133)"/><path d="M716.7 525.6 L742.1 517.5 L779.3 564.4 L753.6 574.1Z"/><polygon points="236.2,319.4 264.1,275.8 262.7,297.2" fill="url(#a134)" stroke="url(#a134)"/><polygon points="264.1,275.8 291.2,223.2 262.7,297.2" fill="url(#a135)" stroke="url(#a135)"/><path d="M236.2 319.4 L264.1 275.8 L291.2 223.2 L262.7 297.2Z"/><polygon points="207.8,340.8 236.2,319.4 234,345.6" fill="url(#a136)" stroke="url(#a136)"/><polygon points="236.2,319.4 262.7,297.2 234,345.6" fill="url(#a137)" stroke="url(#a137)"/><path d="M207.8 340.8 L236.2 319.4 L262.7 297.2 L234 345.6Z"/><polygon points="319.7,154.6 347.6,116.8 348.7,110.9" fill="url(#a138)" stroke="url(#a138)"/><polygon points="347.6,116.8 377.4,86.3 348.7,110.9" fill="url(#a139)" stroke="url(#a139)"/><path d="M319.7 154.6 L347.6 116.8 L377.4 86.3 L348.7 110.9Z"/><polygon points="264.1,275.8 291.9,215.3 291.2,223.2" fill="url(#a140)" stroke="url(#a140)"/><polygon points="291.9,215.3 319.9,160.5 291.2,223.2" fill="url(#a141)" stroke="url(#a141)"/><path d="M264.1 275.8 L291.9 215.3 L319.9 160.5 L291.2 223.2ZM291.9 215.3L291.2 223.2"/><polygon points="291.9,215.3 319.7,154.6 319.9,160.5" fill="url(#a142)" stroke="url(#a142)"/><polygon points="319.7,154.6 348.7,110.9 319.9,160.5" fill="url(#a143)" stroke="url(#a143)"/><path d="M291.9 215.3 L319.7 154.6 L348.7 110.9 L319.9 160.5Z"/><polygon points="605.5,458.9 630.3,486.9 640,516" fill="url(#a144)" stroke="url(#a144)"/><polygon points="630.3,486.9 665.2,535.5 640,516" fill="url(#a145)" stroke="url(#a145)"/><path d="M605.5 458.9 L630.3 486.9 L665.2 535.5 L640 516Z"/><polygon points="691,532.7 716.7,525.6 753.6,574.1" fill="url(#a146)" stroke="url(#a146)"/><polygon points="691,532.7 753.6,574.1 727.5,585" fill="url(#a147)" stroke="url(#a147)"/><path d="M691 532.7 L716.7 525.6 L753.6 574.1 L727.5 585Z"/><polygon points="521.4,329.5 547.4,358.7 554.7,383" fill="url(#a148)" stroke="url(#a148)"/><polygon points="547.4,358.7 580.8,412.1 554.7,383" fill="url(#a149)" stroke="url(#a149)"/><path d="M521.4 329.5 L547.4 358.7 L580.8 412.1 L554.7 383Z"/><polygon points="464.3,158.4 490.7,211.8 495.2,282.2" fill="url(#a150)" stroke="url(#a150)"/><polygon points="490.7,211.8 521.4,329.5 495.2,282.2" fill="url(#a151)" stroke="url(#a151)"/><path d="M464.3 158.4 L490.7 211.8 L521.4 329.5 L495.2 282.2Z"/><polygon points="405.6,82.1 433.1,102.6 437.1,108.2" fill="url(#a152)" stroke="url(#a152)"/><polygon points="433.1,102.6 464.3,158.4 437.1,108.2" fill="url(#a153)" stroke="url(#a153)"/><path d="M405.6 82.1 L433.1 102.6 L464.3 158.4 L437.1 108.2Z"/><polygon points="665.2,535.5 691,532.7 701.4,589.4" fill="url(#a154)" stroke="url(#a154)"/><polygon points="691,532.7 727.5,585 701.4,589.4" fill="url(#a155)" stroke="url(#a155)"/><path d="M665.2 535.5 L691 532.7 L727.5 585 L701.4 589.4ZM691 532.7L701.4 589.4"/><polygon points="580.8,412.1 605.5,458.9 615.1,476.7" fill="url(#a156)" stroke="url(#a156)"/><polygon points="605.5,458.9 640,516 615.1,476.7" fill="url(#a157)" stroke="url(#a157)"/><path d="M580.8 412.1 L605.5 458.9 L640 516 L615.1 476.7ZM605.5 458.9L615.1 476.7"/><polygon points="640,516 665.2,535.5 675.8,575.8" fill="url(#a158)" stroke="url(#a158)"/><polygon points="665.2,535.5 701.4,589.4 675.8,575.8" fill="url(#a159)" stroke="url(#a159)"/><path d="M640 516 L665.2 535.5 L701.4 589.4 L675.8 575.8Z"/><polygon points="377.4,86.3 405.6,82.1 408.5,100.5" fill="url(#a160)" stroke="url(#a160)"/><polygon points="405.6,82.1 437.1,108.2 408.5,100.5" fill="url(#a161)" stroke="url(#a161)"/><path d="M377.4 86.3 L405.6 82.1 L437.1 108.2 L408.5 100.5Z"/><polygon points="495.2,282.2 521.4,329.5 528,354.4" fill="url(#a162)" stroke="url(#a162)"/><polygon points="521.4,329.5 554.7,383 528,354.4" fill="url(#a163)" stroke="url(#a163)"/><path d="M495.2 282.2 L521.4 329.5 L554.7 383 L528 354.4Z"/><polygon points="437.1,108.2 464.3,158.4 469.4,167.1" fill="url(#a164)" stroke="url(#a164)"/><polygon points="464.3,158.4 495.2,282.2 469.4,167.1" fill="url(#a165)" stroke="url(#a165)"/><path d="M437.1 108.2 L464.3 158.4 L495.2 282.2 L469.4 167.1Z"/><polygon points="348.7,110.9 377.4,86.3 379.5,103.7" fill="url(#a166)" stroke="url(#a166)"/><polygon points="377.4,86.3 408.5,100.5 379.5,103.7" fill="#6c0000" stroke="#6c0000"/><path d="M348.7 110.9 L377.4 86.3 L408.5 100.5 L379.5 103.7Z"/><polygon points="554.7,383 580.8,412.1 589.3,438.5" fill="url(#a167)" stroke="url(#a167)"/><polygon points="580.8,412.1 615.1,476.7 589.3,438.5" fill="url(#a168)" stroke="url(#a168)"/><path d="M554.7 383 L580.8 412.1 L615.1 476.7 L589.3 438.5Z"/><polygon points="234,345.6 262.7,297.2 261.3,333.1" fill="url(#a169)" stroke="url(#a169)"/><polygon points="262.7,297.2 290.4,213.5 261.3,333.1" fill="url(#a170)" stroke="url(#a170)"/><path d="M234 345.6 L262.7 297.2 L290.4 213.5 L261.3 333.1ZM262.7 297.2L261.3 333.1"/><polygon points="319.9,160.5 348.7,110.9 349.9,114.3" fill="url(#a171)" stroke="url(#a171)"/><polygon points="348.7,110.9 379.5,103.7 349.9,114.3" fill="url(#a172)" stroke="url(#a172)"/><path d="M319.9 160.5 L348.7 110.9 L379.5 103.7 L349.9 114.3Z"/><polygon points="615.1,476.7 640,516 651.4,525" fill="url(#a173)" stroke="url(#a173)"/><polygon points="640,516 675.8,575.8 651.4,525" fill="url(#a174)" stroke="url(#a174)"/><path d="M615.1 476.7 L640 516 L675.8 575.8 L651.4 525Z"/><polygon points="262.7,297.2 291.2,223.2 290.4,213.5" fill="url(#a175)" stroke="url(#a175)"/><polygon points="291.2,223.2 320.1,141.2 290.4,213.5" fill="url(#a176)" stroke="url(#a176)"/><path d="M262.7 297.2 L291.2 223.2 L320.1 141.2 L290.4 213.5Z"/><polygon points="291.2,223.2 319.9,160.5 320.1,141.2" fill="url(#a177)" stroke="url(#a177)"/><polygon points="319.9,160.5 349.9,114.3 320.1,141.2" fill="url(#a178)" stroke="url(#a178)"/><path d="M291.2 223.2 L319.9 160.5 L349.9 114.3 L320.1 141.2Z"/><polygon points="528,354.4 554.7,383 562.6,406.5" fill="url(#a179)" stroke="url(#a179)"/><polygon points="554.7,383 589.3,438.5 562.6,406.5" fill="url(#a180)" stroke="url(#a180)"/><path d="M528 354.4 L554.7 383 L589.3 438.5 L562.6 406.5Z"/><polygon points="408.5,100.5 437.1,108.2 440.6,158.6" fill="url(#a181)" stroke="url(#a181)"/><polygon points="437.1,108.2 469.4,167.1 440.6,158.6" fill="url(#a182)" stroke="url(#a182)"/><path d="M408.5 100.5 L437.1 108.2 L469.4 167.1 L440.6 158.6Z"/><polygon points="469.4,167.1 495.2,282.2 502.7,231.9" fill="url(#a183)" stroke="url(#a183)"/><polygon points="495.2,282.2 528,354.4 502.7,231.9" fill="url(#a184)" stroke="url(#a184)"/><path d="M469.4 167.1 L495.2 282.2 L528 354.4 L502.7 231.9ZM495.2 282.2L502.7 231.9"/><polygon points="589.3,438.5 615.1,476.7 625.3,495.1" fill="url(#a185)" stroke="url(#a185)"/><polygon points="615.1,476.7 651.4,525 625.3,495.1" fill="url(#a186)" stroke="url(#a186)"/><path d="M589.3 438.5 L615.1 476.7 L651.4 525 L625.3 495.1Z"/><polygon points="379.5,103.7 408.5,100.5 440.6,158.6" fill="url(#a187)" stroke="url(#a187)"/><polygon points="379.5,103.7 440.6,158.6 411.2,168.5" fill="url(#a188)" stroke="url(#a188)"/><path d="M379.5 103.7 L408.5 100.5 L440.6 158.6 L411.2 168.5Z"/><polygon points="349.9,114.3 379.5,103.7 411.2,168.5" fill="url(#a189)" stroke="url(#a189)"/><polygon points="349.9,114.3 411.2,168.5 381.3,190.9" fill="url(#a190)" stroke="url(#a190)"/><path d="M349.9 114.3 L379.5 103.7 L411.2 168.5 L381.3 190.9ZM349.9 114.3L411.2 168.5"/><polygon points="261.3,333.1 290.4,213.5 320.8,300.2" fill="url(#a191)" stroke="url(#a191)"/><polygon points="261.3,333.1 320.8,300.2 290.7,367" fill="url(#a192)" stroke="url(#a192)"/><path d="M261.3 333.1 L290.4 213.5 L320.8 300.2 L290.7 367Z"/><polygon points="440.6,158.6 469.4,167.1 473.6,236.2" fill="url(#a193)" stroke="url(#a193)"/><polygon points="469.4,167.1 502.7,231.9 473.6,236.2" fill="url(#a194)" stroke="url(#a194)"/><path d="M440.6 158.6 L469.4 167.1 L502.7 231.9 L473.6 236.2Z"/><polygon points="502.7,231.9 528,354.4 537.3,301.5" fill="url(#a195)" stroke="url(#a195)"/><polygon points="528,354.4 562.6,406.5 537.3,301.5" fill="url(#a196)" stroke="url(#a196)"/><path d="M502.7 231.9 L528 354.4 L562.6 406.5 L537.3 301.5Z"/><polygon points="320.1,141.2 349.9,114.3 381.3,190.9" fill="url(#a197)" stroke="url(#a197)"/><polygon points="320.1,141.2 381.3,190.9 351.1,225.9" fill="url(#a198)" stroke="url(#a198)"/><path d="M320.1 141.2 L349.9 114.3 L381.3 190.9 L351.1 225.9Z"/><polygon points="562.6,406.5 589.3,438.5 598.7,459.5" fill="url(#a199)" stroke="url(#a199)"/><polygon points="589.3,438.5 625.3,495.1 598.7,459.5" fill="url(#a200)" stroke="url(#a200)"/><path d="M562.6 406.5 L589.3 438.5 L625.3 495.1 L598.7 459.5Z"/><polygon points="290.4,213.5 320.1,141.2 351.1,225.9" fill="url(#a201)" stroke="url(#a201)"/><polygon points="290.4,213.5 351.1,225.9 320.8,300.2" fill="url(#a202)" stroke="url(#a202)"/><path d="M290.4 213.5 L320.1 141.2 L351.1 225.9 L320.8 300.2Z"/><polygon points="411.2,168.5 440.6,158.6 473.6,236.2" fill="url(#a203)" stroke="url(#a203)"/><polygon points="411.2,168.5 473.6,236.2 443.8,250.5" fill="url(#a204)" stroke="url(#a204)"/><path d="M411.2 168.5 L440.6 158.6 L473.6 236.2 L443.8 250.5Z"/><polygon points="381.3,190.9 411.2,168.5 443.8,250.5" fill="url(#a205)" stroke="url(#a205)"/><polygon points="381.3,190.9 443.8,250.5 413.6,272.4" fill="url(#a206)" stroke="url(#a206)"/><path d="M381.3 190.9 L411.2 168.5 L443.8 250.5 L413.6 272.4ZM381.3 190.9L443.8 250.5"/><polygon points="473.6,236.2 502.7,231.9 537.3,301.5" fill="url(#a207)" stroke="url(#a207)"/><polygon points="473.6,236.2 537.3,301.5 507.3,328.7" fill="url(#a208)" stroke="url(#a208)"/><path d="M473.6 236.2 L502.7 231.9 L537.3 301.5 L507.3 328.7Z"/><polygon points="351.1,225.9 381.3,190.9 413.6,272.4" fill="url(#a209)" stroke="url(#a209)"/><polygon points="351.1,225.9 413.6,272.4 383,309.4" fill="url(#a210)" stroke="url(#a210)"/><path d="M351.1 225.9 L381.3 190.9 L413.6 272.4 L383 309.4Z"/><polygon points="290.7,367 320.8,300.2 352.3,363.9" fill="url(#a211)" stroke="url(#a211)"/><polygon points="290.7,367 352.3,363.9 321.4,397.6" fill="url(#a212)" stroke="url(#a212)"/><path d="M290.7 367 L320.8 300.2 L352.3 363.9 L321.4 397.6ZM290.7 367L352.3 363.9"/><polygon points="320.8,300.2 351.1,225.9 383,309.4" fill="url(#a213)" stroke="url(#a213)"/><polygon points="320.8,300.2 383,309.4 352.3,363.9" fill="url(#a214)" stroke="url(#a214)"/><path d="M320.8 300.2 L351.1 225.9 L383 309.4 L352.3 363.9Z"/><polygon points="537.3,301.5 562.6,406.5 573.3,366.1" fill="url(#a215)" stroke="url(#a215)"/><polygon points="562.6,406.5 598.7,459.5 573.3,366.1" fill="url(#a216)" stroke="url(#a216)"/><path d="M537.3 301.5 L562.6 406.5 L598.7 459.5 L573.3 366.1Z"/><polygon points="443.8,250.5 473.6,236.2 507.3,328.7" fill="url(#a217)" stroke="url(#a217)"/><polygon points="443.8,250.5 507.3,328.7 477.1,354.9" fill="url(#a218)" stroke="url(#a218)"/><path d="M443.8 250.5 L473.6 236.2 L507.3 328.7 L477.1 354.9Z"/><polygon points="413.6,272.4 443.8,250.5 477.1,354.9" fill="url(#a219)" stroke="url(#a219)"/><polygon points="413.6,272.4 477.1,354.9 446.7,378.8" fill="url(#a220)" stroke="url(#a220)"/><path d="M413.6 272.4 L443.8 250.5 L477.1 354.9 L446.7 378.8Z"/><polygon points="383,309.4 413.6,272.4 446.7,378.8" fill="url(#a221)" stroke="url(#a221)"/><polygon points="383,309.4 446.7,378.8 416.2,378.2" fill="url(#a222)" stroke="url(#a222)"/><path d="M383 309.4 L413.6 272.4 L446.7 378.8 L416.2 378.2Z"/><polygon points="507.3,328.7 537.3,301.5 573.3,366.1" fill="url(#a223)" stroke="url(#a223)"/><polygon points="507.3,328.7 573.3,366.1 543.4,377.9" fill="url(#a224)" stroke="url(#a224)"/><path d="M507.3 328.7 L537.3 301.5 L573.3 366.1 L543.4 377.9Z"/><polygon points="352.3,363.9 383,309.4 416.2,378.2" fill="url(#a225)" stroke="url(#a225)"/><polygon points="352.3,363.9 416.2,378.2 385,413.8" fill="url(#a226)" stroke="url(#a226)"/><path d="M352.3 363.9 L383 309.4 L416.2 378.2 L385 413.8ZM352.3 363.9L416.2 378.2"/><polygon points="321.4,397.6 352.3,363.9 385,413.8" fill="url(#a227)" stroke="url(#a227)"/><polygon points="321.4,397.6 385,413.8 353.6,433.5" fill="url(#a228)" stroke="url(#a228)"/><path d="M321.4 397.6 L352.3 363.9 L385 413.8 L353.6 433.5Z"/><polygon points="477.1,354.9 507.3,328.7 543.4,377.9" fill="url(#a229)" stroke="url(#a229)"/><polygon points="477.1,354.9 543.4,377.9 512.8,398.6" fill="url(#a230)" stroke="url(#a230)"/><path d="M477.1 354.9 L507.3 328.7 L543.4 377.9 L512.8 398.6Z"/><polygon points="446.7,378.8 477.1,354.9 512.8,398.6" fill="url(#a231)" stroke="url(#a231)"/><polygon points="446.7,378.8 512.8,398.6 481.8,429.6" fill="url(#a232)" stroke="url(#a232)"/><path d="M446.7 378.8 L477.1 354.9 L512.8 398.6 L481.8 429.6Z"/><polygon points="416.2,378.2 446.7,378.8 451.1,419.2" fill="url(#a233)" stroke="url(#a233)"/><polygon points="446.7,378.8 481.8,429.6 451.1,419.2" fill="url(#a234)" stroke="url(#a234)"/><path d="M416.2 378.2 L446.7 378.8 L481.8 429.6 L451.1 419.2Z"/><polygon points="385,413.8 416.2,378.2 451.1,419.2" fill="url(#a235)" stroke="url(#a235)"/><polygon points="385,413.8 451.1,419.2 419.3,453.3" fill="url(#a236)" stroke="url(#a236)"/><path d="M385 413.8 L416.2 378.2 L451.1 419.2 L419.3 453.3Z"/><polygon points="353.6,433.5 385,413.8 419.3,453.3" fill="url(#a237)" stroke="url(#a237)"/><polygon points="353.6,433.5 419.3,453.3 387.4,470.5" fill="url(#a238)" stroke="url(#a238)"/><path d="M353.6 433.5 L385 413.8 L419.3 453.3 L387.4 470.5Z"/></g>
<line class="a" x1="136.4" y1="504.8" x2="121.9" y2="40.3"/>
<line class="a" x1="136.4" y1="504.8" x2="354.6" y2="703"/>
<line class="a" x1="354.6" y1="703" x2="802.4" y2="587.5"/>
<line class="a" x1="123.7" y1="98.3" x2="113.7" y2="98.5"/>
<line class="a" x1="127.3" y1="211.5" x2="117.3" y2="211.7"/>
<line class="a" x1="130.7" y1="321.1" x2="120.7" y2="321.3"/>
<line class="a" x1="134" y1="427.3" x2="124" y2="427.5"/>
<line class="a" x1="136.4" y1="504.8" x2="131.9" y2="504.8"/>
<line class="a" x1="135.6" y1="479.1" x2="131.1" y2="479.2"/>
<line class="a" x1="134.8" y1="453.3" x2="130.3" y2="453.4"/>
<line class="a" x1="133.2" y1="401.1" x2="128.7" y2="401.1"/>
<line class="a" x1="132.3" y1="374.6" x2="127.8" y2="374.7"/>
<line class="a" x1="131.5" y1="348" x2="127" y2="348.1"/>
<line class="a" x1="129.8" y1="294" x2="125.3" y2="294.1"/>
<line class="a" x1="129" y1="266.7" x2="124.5" y2="266.8"/>
<line class="a" x1="128.1" y1="239.2" x2="123.6" y2="239.3"/>
<line class="a" x1="126.4" y1="183.5" x2="121.9" y2="183.6"/>
<line class="a" x1="125.5" y1="155.4" x2="121" y2="155.4"/>
<line class="a" x1="124.6" y1="126.9" x2="120.1" y2="127"/>
<line class="a" x1="122.8" y1="69.4" x2="118.3" y2="69.5"/>
<line class="a" x1="121.9" y1="40.3" x2="117.4" y2="40.4"/>
<line class="a" x1="136.4" y1="504.8" x2="127.5" y2="506.1"/>
<line class="a" x1="183.6" y1="547.6" x2="174.7" y2="549"/>
<line class="a" x1="235.2" y1="594.5" x2="226.3" y2="595.9"/>
<line class="a" x1="292" y1="646.1" x2="283.1" y2="647.5"/>
<line class="a" x1="354.6" y1="703" x2="345.7" y2="704.3"/>
<line class="a" x1="147.8" y1="515.1" x2="142.9" y2="515.9"/>
<line class="a" x1="159.5" y1="525.7" x2="154.5" y2="526.5"/>
<line class="a" x1="171.4" y1="536.6" x2="166.4" y2="537.3"/>
<line class="a" x1="196.1" y1="559" x2="191.1" y2="559.7"/>
<line class="a" x1="208.8" y1="570.5" x2="203.9" y2="571.3"/>
<line class="a" x1="221.9" y1="582.4" x2="216.9" y2="583.2"/>
<line class="a" x1="248.9" y1="607" x2="244" y2="607.7"/>
<line class="a" x1="262.9" y1="619.7" x2="258" y2="620.4"/>
<line class="a" x1="277.3" y1="632.7" x2="272.3" y2="633.5"/>
<line class="a" x1="307" y1="659.8" x2="302.1" y2="660.5"/>
<line class="a" x1="322.5" y1="673.8" x2="317.5" y2="674.6"/>
<line class="a" x1="338.3" y1="688.2" x2="333.4" y2="689"/>
<line class="a" x1="354.6" y1="703" x2="362.7" y2="710.4"/>
<line class="a" x1="476.7" y1="671.5" x2="484.8" y2="678.9"/>
<line class="a" x1="591.6" y1="641.8" x2="599.8" y2="649.2"/>
<line class="a" x1="700" y1="613.9" x2="708.2" y2="621.3"/>
<line class="a" x1="802.4" y1="587.5" x2="810.6" y2="594.9"/>
<line class="a" x1="385.8" y1="694.9" x2="390.3" y2="698.9"/>
<line class="a" x1="416.6" y1="687" x2="421" y2="691"/>
<line class="a" x1="446.9" y1="679.2" x2="451.3" y2="683.2"/>
<line class="a" x1="506.1" y1="663.9" x2="510.5" y2="667.9"/>
<line class="a" x1="535" y1="656.4" x2="539.4" y2="660.5"/>
<line class="a" x1="563.5" y1="649.1" x2="568" y2="653.1"/>
<line class="a" x1="619.3" y1="634.7" x2="623.7" y2="638.7"/>
<line class="a" x1="646.6" y1="627.7" x2="651" y2="631.7"/>
<line class="a" x1="673.5" y1="620.7" x2="677.9" y2="624.8"/>
<line class="a" x1="726.2" y1="607.1" x2="730.6" y2="611.2"/>
<line class="a" x1="751.9" y1="600.5" x2="756.4" y2="604.5"/>
<line class="a" x1="777.4" y1="593.9" x2="781.8" y2="598"/>
<line class="g" x1="122.7" y1="886" x2="546.3" y2="845.8"/>
<line class="g" x1="546.3" y1="845.8" x2="835.6" y2="939.7"/>
<line class="g" x1="126.5" y1="1007.3" x2="543.2" y2="955.9"/>
<line class="g" x1="543.2" y1="955.9" x2="826.4" y2="1069.5"/>
<line class="g" x1="130.1" y1="1124.5" x2="540.1" y2="1062.7"/>
<line class="g" x1="540.1" y1="1062.7" x2="817.6" y2="1194.6"/>
<line class="g" x1="133.6" y1="1237.8" x2="537.1" y2="1166.2"/>
<line class="g" x1="537.1" y1="1166.2" x2="809" y2="1315.1"/>
<line class="g" x1="222.5" y1="1308.7" x2="214.3" y2="853"/>
<line class="g" x1="222.5" y1="1308.7" x2="452.9" y2="1498.6"/>
<line class="g" x1="332" y1="1287" x2="331.4" y2="842.6"/>
<line class="g" x1="332" y1="1287" x2="576.7" y2="1466.7"/>
<line class="g" x1="436" y1="1266.4" x2="442.1" y2="832.7"/>
<line class="g" x1="436" y1="1266.4" x2="693" y2="1436.7"/>
<line class="g" x1="593.5" y1="1282.3" x2="610.2" y2="842.9"/>
<line class="g" x1="183.6" y1="1368.6" x2="593.5" y2="1282.3"/>
<line class="g" x1="657.3" y1="1320.8" x2="679.1" y2="864.2"/>
<line class="g" x1="235.2" y1="1415.5" x2="657.3" y2="1320.8"/>
<line class="g" x1="726.6" y1="1362.7" x2="754.6" y2="887.5"/>
<line class="g" x1="292" y1="1467.1" x2="726.6" y2="1362.7"/>
<line class="f" x1="121.9" y1="861.3" x2="547" y2="823.4"/>
<line class="f" x1="547" y1="823.4" x2="837.5" y2="913.2"/>
<line class="f" x1="534.7" y1="1246.8" x2="547" y2="823.4"/>
<line class="f" x1="802.4" y1="1408.5" x2="837.5" y2="913.2"/>
<line class="f" x1="136.4" y1="1325.8" x2="534.7" y2="1246.8"/>
<line class="f" x1="534.7" y1="1246.8" x2="802.4" y2="1408.5"/>
<g class="s"><polygon points="514.9,1076.9 539.8,1073.2 543.9,1104" fill="url(#b0)" stroke="url(#b0)"/><polygon points="539.8,1073.2 569,1100.3 543.9,1104" fill="url(#b1)" stroke="url(#b1)"/><path d="M514.9 1076.9 L539.8 1073.2 L569 1100.3 L543.9 1104Z"/><polygon points="489.8,1080.5 514.9,1076.9 518.5,1107.8" fill="url(#b2)" stroke="url(#b2)"/><polygon points="514.9,1076.9 543.9,1104 518.5,1107.8" fill="url(#b3)" stroke="url(#b3)"/><path d="M489.8 1080.5 L514.9 1076.9 L543.9 1104 L518.5 1107.8Z"/><polygon points="464.3,1084.3 489.8,1080.5 492.7,1111.7" fill="url(#b4)" stroke="url(#b4)"/><polygon points="489.8,1080.5 518.5,1107.8 492.7,1111.7" fill="url(#b5)" stroke="url(#b5)"/><path d="M464.3 1084.3 L489.8 1080.5 L518.5 1107.8 L492.7 1111.7ZM489.8 1080.5L492.7 1111.7"/><polygon points="543.9,1104 569,1100.3 573.9,1135.9" fill="url(#b6)" stroke="url(#b6)"/><polygon points="569,1100.3 599.2,1132 573.9,1135.9" fill="url(#b7)" stroke="url(#b7)"/><path d="M543.9 1104 L569 1100.3 L599.2 1132 L573.9 1135.9ZM569 1100.3L573.9 1135.9"/><polygon points="438.5,1088.2 464.3,1084.3 466.6,1115.8" fill="url(#b8)" stroke="url(#b8)"/><polygon points="464.3,1084.3 492.7,1111.7 466.6,1115.8" fill="url(#b9)" stroke="url(#b9)"/><path d="M438.5 1088.2 L464.3 1084.3 L492.7 1111.7 L466.6 1115.8ZM464.3 1084.3L466.6 1115.8"/><polygon points="518.5,1107.8 543.9,1104 548.2,1139.7" fill="url(#b10)" stroke="url(#b10)"/><polygon points="543.9,1104 573.9,1135.9 548.2,1139.7" fill="url(#b11)" stroke="url(#b11)"/><path d="M518.5 1107.8 L543.9 1104 L573.9 1135.9 L548.2 1139.7ZM543.9 1104L548.2 1139.7"/><polygon points="412.4,1088.4 438.5,1088.2 440.2,1112.4" fill="url(#b12)" stroke="url(#b12)"/><polygon points="438.5,1088.2 466.6,1115.8 440.2,1112.4" fill="url(#b13)" stroke="url(#b13)"/><path d="M412.4 1088.4 L438.5 1088.2 L466.6 1115.8 L440.2 1112.4ZM438.5 1088.2L440.2 1112.4"/><polygon points="492.7,1111.7 518.5,1107.8 522.1,1143.6" fill="url(#b14)" stroke="url(#b14)"/><polygon points="518.5,1107.8 548.2,1139.7 522.1,1143.6" fill="url(#b15)" stroke="url(#b15)"/><path d="M492.7 1111.7 L518.5 1107.8 L548.2 1139.7 L522.1 1143.6Z"/><polygon points="385.9,1079.4 412.4,1088.4 413.6,1096.7" fill="url(#b16)" stroke="url(#b16)"/><polygon points="412.4,1088.4 440.2,1112.4 413.6,1096.7" fill="url(#b17)" stroke="url(#b17)"/><path d="M385.9 1079.4 L412.4 1088.4 L440.2 1112.4 L413.6 1096.7Z"/><polygon points="573.9,1135.9 599.2,1132 604.8,1172.5" fill="url(#b18)" stroke="url(#b18)"/><polygon points="599.2,1132 630.4,1168.5 604.8,1172.5" fill="url(#b19)" stroke="url(#b19)"/><path d="M573.9 1135.9 L599.2 1132 L630.4 1168.5 L604.8 1172.5Z"/><polygon points="466.6,1115.8 492.7,1111.7 495.7,1147.9" fill="url(#b20)" stroke="url(#b20)"/><polygon points="492.7,1111.7 522.1,1143.6 495.7,1147.9" fill="url(#b21)" stroke="url(#b21)"/><path d="M466.6 1115.8 L492.7 1111.7 L522.1 1143.6 L495.7 1147.9Z"/><polygon points="548.2,1139.7 573.9,1135.9 578.9,1176.2" fill="url(#b22)" stroke="url(#b22)"/><polygon points="573.9,1135.9 604.8,1172.5 578.9,1176.2" fill="url(#b23)" stroke="url(#b23)"/><path d="M548.2 1139.7 L573.9 1135.9 L604.8 1172.5 L578.9 1176.2Z"/><polygon points="359.1,1063.6 385.9,1079.4 413.6,1096.7" fill="url(#b24)" stroke="url(#b24)"/><polygon points="359.1,1063.6 413.6,1096.7 386.6,1060.4" fill="url(#b25)" stroke="url(#b25)"/><path d="M359.1 1063.6 L385.9 1079.4 L413.6 1096.7 L386.6 1060.4Z"/><polygon points="440.2,1112.4 466.6,1115.8 469.1,1146.2" fill="url(#b26)" stroke="url(#b26)"/><polygon points="466.6,1115.8 495.7,1147.9 469.1,1146.2" fill="url(#b27)" stroke="url(#b27)"/><path d="M440.2 1112.4 L466.6 1115.8 L495.7 1147.9 L469.1 1146.2Z"/><polygon points="522.1,1143.6 548.2,1139.7 552.6,1180.2" fill="url(#b28)" stroke="url(#b28)"/><polygon points="548.2,1139.7 578.9,1176.2 552.6,1180.2" fill="url(#b29)" stroke="url(#b29)"/><path d="M522.1 1143.6 L548.2 1139.7 L578.9 1176.2 L552.6 1180.2Z"/><polygon points="604.8,1172.5 630.4,1168.5 636.8,1214.1" fill="url(#b30)" stroke="url(#b30)"/><polygon points="630.4,1168.5 662.6,1210.1 636.8,1214.1" fill="url(#b31)" stroke="url(#b31)"/><path d="M604.8 1172.5 L630.4 1168.5 L662.6 1210.1 L636.8 1214.1Z"/><polygon points="413.6,1096.7 440.2,1112.4 442.3,1126" fill="url(#b32)" stroke="url(#b32)"/><polygon points="440.2,1112.4 469.1,1146.2 442.3,1126" fill="url(#b33)" stroke="url(#b33)"/><path d="M413.6 1096.7 L440.2 1112.4 L469.1 1146.2 L442.3 1126Z"/><polygon points="331.7,1049.7 359.1,1063.6 386.6,1060.4" fill="url(#b34)" stroke="url(#b34)"/><polygon points="331.7,1049.7 386.6,1060.4 358.9,1007" fill="url(#b35)" stroke="url(#b35)"/><path d="M331.7 1049.7 L359.1 1063.6 L386.6 1060.4 L358.9 1007Z"/><polygon points="495.7,1147.9 522.1,1143.6 525.9,1184.8" fill="url(#b36)" stroke="url(#b36)"/><polygon points="522.1,1143.6 552.6,1180.2 525.9,1184.8" fill="url(#b37)" stroke="url(#b37)"/><path d="M495.7 1147.9 L522.1 1143.6 L552.6 1180.2 L525.9 1184.8Z"/><polygon points="578.9,1176.2 604.8,1172.5 610.6,1217.8" fill="url(#b38)" stroke="url(#b38)"/><polygon points="604.8,1172.5 636.8,1214.1 610.6,1217.8" fill="url(#b39)" stroke="url(#b39)"/><path d="M578.9 1176.2 L604.8 1172.5 L636.8 1214.1 L610.6 1217.8Z"/><polygon points="469.1,1146.2 495.7,1147.9 498.9,1188" fill="url(#b40)" stroke="url(#b40)"/><polygon points="495.7,1147.9 525.9,1184.8 498.9,1188" fill="url(#b41)" stroke="url(#b41)"/><path d="M469.1 1146.2 L495.7 1147.9 L525.9 1184.8 L498.9 1188Z"/><polygon points="386.6,1060.4 413.6,1096.7 442.3,1126" fill="url(#b42)" stroke="url(#b42)"/><polygon points="386.6,1060.4 442.3,1126 415.4,1057.1" fill="url(#b43)" stroke="url(#b43)"/><path d="M386.6 1060.4 L413.6 1096.7 L442.3 1126 L415.4 1057.1Z"/><polygon points="552.6,1180.2 578.9,1176.2 584,1221.9" fill="url(#b44)" stroke="url(#b44)"/><polygon points="578.9,1176.2 610.6,1217.8 584,1221.9" fill="url(#b45)" stroke="url(#b45)"/><path d="M552.6 1180.2 L578.9 1176.2 L610.6 1217.8 L584 1221.9Z"/><polygon points="303.8,1042.4 331.7,1049.7 358.9,1007" fill="url(#b46)" stroke="url(#b46)"/><polygon points="303.8,1042.4 358.9,1007 330.3,940.1" fill="url(#b47)" stroke="url(#b47)"/><path d="M303.8 1042.4 L331.7 1049.7 L358.9 1007 L330.3 940.1Z"/><polygon points="636.8,1214.1 662.6,1210.1 669.7,1260.6" fill="url(#b48)" stroke="url(#b48)"/><polygon points="662.6,1210.1 695.7,1256.5 669.7,1260.6" fill="url(#b49)" stroke="url(#b49)"/><path d="M636.8 1214.1 L662.6 1210.1 L695.7 1256.5 L669.7 1260.6Z"/><polygon points="442.3,1126 469.1,1146.2 472,1160.2" fill="url(#b50)" stroke="url(#b50)"/><polygon points="469.1,1146.2 498.9,1188 472,1160.2" fill="url(#b51)" stroke="url(#b51)"/><path d="M442.3 1126 L469.1 1146.2 L498.9 1188 L472 1160.2Z"/><polygon points="525.9,1184.8 552.6,1180.2 557.1,1226.7" fill="url(#b52)" stroke="url(#b52)"/><polygon points="552.6,1180.2 584,1221.9 557.1,1226.7" fill="url(#b53)" stroke="url(#b53)"/><path d="M525.9 1184.8 L552.6 1180.2 L584 1221.9 L557.1 1226.7ZM552.6 1180.2L557.1 1226.7"/><polygon points="275.8,1068.9 303.8,1042.4 301.2,967.3" fill="url(#b54)" stroke="url(#b54)"/><polygon points="303.8,1042.4 330.3,940.1 301.2,967.3" fill="url(#b55)" stroke="url(#b55)"/><path d="M275.8 1068.9 L303.8 1042.4 L330.3 940.1 L301.2 967.3ZM303.8 1042.4L301.2 967.3"/><polygon points="610.6,1217.8 636.8,1214.1 643.3,1264.2" fill="url(#b56)" stroke="url(#b56)"/><polygon points="636.8,1214.1 669.7,1260.6 643.3,1264.2" fill="url(#b57)" stroke="url(#b57)"/><path d="M610.6 1217.8 L636.8 1214.1 L669.7 1260.6 L643.3 1264.2Z"/><polygon points="247.5,1088.8 275.8,1068.9 272.1,1006.5" fill="url(#b58)" stroke="url(#b58)"/><polygon points="275.8,1068.9 301.2,967.3 272.1,1006.5" fill="url(#b59)" stroke="url(#b59)"/><path d="M247.5 1088.8 L275.8 1068.9 L301.2 967.3 L272.1 1006.5Z"/><polygon points="498.9,1188 525.9,1184.8 529.7,1231.5" fill="url(#b60)" stroke="url(#b60)"/><polygon points="525.9,1184.8 557.1,1226.7 529.7,1231.5" fill="url(#b61)" stroke="url(#b61)"/><path d="M498.9 1188 L525.9 1184.8 L557.1 1226.7 L529.7 1231.5Z"/><polygon points="358.9,1007 386.6,1060.4 415.4,1057.1" fill="url(#b62)" stroke="url(#b62)"/><polygon points="358.9,1007 415.4,1057.1 387.7,973.7" fill="url(#b63)" stroke="url(#b63)"/><path d="M358.9 1007 L386.6 1060.4 L415.4 1057.1 L387.7 973.7ZM358.9 1007L415.4 1057.1"/><polygon points="218.8,1103.7 247.5,1088.8 243.1,1058.6" fill="url(#b64)" stroke="url(#b64)"/><polygon points="247.5,1088.8 272.1,1006.5 243.1,1058.6" fill="url(#b65)" stroke="url(#b65)"/><path d="M218.8 1103.7 L247.5 1088.8 L272.1 1006.5 L243.1 1058.6Z"/><polygon points="584,1221.9 610.6,1217.8 616.5,1268.4" fill="url(#b66)" stroke="url(#b66)"/><polygon points="610.6,1217.8 643.3,1264.2 616.5,1268.4" fill="url(#b67)" stroke="url(#b67)"/><path d="M584 1221.9 L610.6 1217.8 L643.3 1264.2 L616.5 1268.4Z"/><polygon points="189.6,1111 218.8,1103.7 213.9,1108.9" fill="url(#b68)" stroke="url(#b68)"/><polygon points="218.8,1103.7 243.1,1058.6 213.9,1108.9" fill="url(#b69)" stroke="url(#b69)"/><path d="M189.6 1111 L218.8 1103.7 L243.1 1058.6 L213.9 1108.9Z"/><polygon points="415.4,1057.1 442.3,1126 445.4,1079.7" fill="url(#b70)" stroke="url(#b70)"/><polygon points="442.3,1126 472,1160.2 445.4,1079.7" fill="url(#b71)" stroke="url(#b71)"/><path d="M415.4 1057.1 L442.3 1126 L472 1160.2 L445.4 1079.7Z"/><polygon points="669.7,1260.6 695.7,1256.5 703.7,1311" fill="url(#b72)" stroke="url(#b72)"/><polygon points="695.7,1256.5 729.9,1306.8 703.7,1311" fill="url(#b73)" stroke="url(#b73)"/><path d="M669.7 1260.6 L695.7 1256.5 L729.9 1306.8 L703.7 1311Z"/><polygon points="160.1,1117.7 189.6,1111 184.1,1129.8" fill="url(#b74)" stroke="url(#b74)"/><polygon points="189.6,1111 213.9,1108.9 184.1,1129.8" fill="url(#b75)" stroke="url(#b75)"/><path d="M160.1 1117.7 L189.6 1111 L213.9 1108.9 L184.1 1129.8Z"/><polygon points="472,1160.2 498.9,1188 502.9,1199.5" fill="url(#b76)" stroke="url(#b76)"/><polygon points="498.9,1188 529.7,1231.5 502.9,1199.5" fill="url(#b77)" stroke="url(#b77)"/><path d="M472 1160.2 L498.9 1188 L529.7 1231.5 L502.9 1199.5Z"/><polygon points="557.1,1226.7 584,1221.9 589.3,1273.5" fill="url(#b78)" stroke="url(#b78)"/><polygon points="584,1221.9 616.5,1268.4 589.3,1273.5" fill="url(#b79)" stroke="url(#b79)"/><path d="M557.1 1226.7 L584 1221.9 L616.5 1268.4 L589.3 1273.5Z"/><polygon points="643.3,1264.2 669.7,1260.6 677.2,1314.6" fill="url(#b80)" stroke="url(#b80)"/><polygon points="669.7,1260.6 703.7,1311 677.2,1314.6" fill="url(#b81)" stroke="url(#b81)"/><path d="M643.3 1264.2 L669.7 1260.6 L703.7 1311 L677.2 1314.6Z"/><polygon points="130.1,1123.4 160.1,1117.7 153.7,1138.1" fill="url(#b82)" stroke="url(#b82)"/><polygon points="160.1,1117.7 184.1,1129.8 153.7,1138.1" fill="url(#b83)" stroke="url(#b83)"/><path d="M130.1 1123.4 L160.1 1117.7 L184.1 1129.8 L153.7 1138.1Z"/><polygon points="529.7,1231.5 557.1,1226.7 561.8,1276.5" fill="url(#b84)" stroke="url(#b84)"/><polygon points="557.1,1226.7 589.3,1273.5 561.8,1276.5" fill="url(#b85)" stroke="url(#b85)"/><path d="M529.7 1231.5 L557.1 1226.7 L589.3 1273.5 L561.8 1276.5Z"/><polygon points="330.3,940.1 358.9,1007 387.7,973.7" fill="url(#b86)" stroke="url(#b86)"/><polygon points="330.3,940.1 387.7,973.7 358.8,872" fill="url(#b87)" stroke="url(#b87)"/><path d="M330.3 940.1 L358.9 1007 L387.7 973.7 L358.8 872ZM330.3 940.1L387.7 973.7"/><polygon points="616.5,1268.4 643.3,1264.2 650.2,1318.9" fill="url(#b88)" stroke="url(#b88)"/><polygon points="643.3,1264.2 677.2,1314.6 650.2,1318.9" fill="url(#b89)" stroke="url(#b89)"/><path d="M616.5 1268.4 L643.3 1264.2 L677.2 1314.6 L650.2 1318.9Z"/><polygon points="703.7,1311 729.9,1306.8 739.3,1357.6" fill="url(#b90)" stroke="url(#b90)"/><polygon points="729.9,1306.8 765.7,1353.3 739.3,1357.6" fill="url(#b91)" stroke="url(#b91)"/><path d="M703.7 1311 L729.9 1306.8 L765.7 1353.3 L739.3 1357.6Z"/><polygon points="387.7,973.7 415.4,1057.1 417.7,987.5" fill="url(#b92)" stroke="url(#b92)"/><polygon points="415.4,1057.1 445.4,1079.7 417.7,987.5" fill="url(#b93)" stroke="url(#b93)"/><path d="M387.7 973.7 L415.4 1057.1 L445.4 1079.7 L417.7 987.5Z"/><polygon points="445.4,1079.7 472,1160.2 476.4,1112.9" fill="url(#b94)" stroke="url(#b94)"/><polygon points="472,1160.2 502.9,1199.5 476.4,1112.9" fill="url(#b95)" stroke="url(#b95)"/><path d="M445.4 1079.7 L472 1160.2 L502.9 1199.5 L476.4 1112.9Z"/><polygon points="502.9,1199.5 529.7,1231.5 535,1240.3" fill="url(#b96)" stroke="url(#b96)"/><polygon points="529.7,1231.5 561.8,1276.5 535,1240.3" fill="url(#b97)" stroke="url(#b97)"/><path d="M502.9 1199.5 L529.7 1231.5 L561.8 1276.5 L535 1240.3Z"/><polygon points="589.3,1273.5 616.5,1268.4 622.7,1324.3" fill="url(#b98)" stroke="url(#b98)"/><polygon points="616.5,1268.4 650.2,1318.9 622.7,1324.3" fill="url(#b99)" stroke="url(#b99)"/><path d="M589.3 1273.5 L616.5 1268.4 L650.2 1318.9 L622.7 1324.3Z"/><polygon points="301.2,967.3 330.3,940.1 328.9,909.7" fill="url(#b100)" stroke="url(#b100)"/><polygon points="330.3,940.1 358.8,872 328.9,909.7" fill="url(#b101)" stroke="url(#b101)"/><path d="M301.2 967.3 L330.3 940.1 L358.8 872 L328.9 909.7Z"/><polygon points="677.2,1314.6 703.7,1311 712.5,1361.2" fill="url(#b102)" stroke="url(#b102)"/><polygon points="703.7,1311 739.3,1357.6 712.5,1361.2" fill="url(#b103)" stroke="url(#b103)"/><path d="M677.2 1314.6 L703.7 1311 L739.3 1357.6 L712.5 1361.2ZM703.7 1311L712.5 1361.2"/><polygon points="272.1,1006.5 301.2,967.3 298.7,926.1" fill="url(#b104)" stroke="url(#b104)"/><polygon points="301.2,967.3 328.9,909.7 298.7,926.1" fill="url(#b105)" stroke="url(#b105)"/><path d="M272.1 1006.5 L301.2 967.3 L328.9 909.7 L298.7 926.1Z"/><polygon points="213.9,1108.9 243.1,1058.6 238.9,1065.7" fill="url(#b106)" stroke="url(#b106)"/><polygon points="243.1,1058.6 268.8,998.1 238.9,1065.7" fill="url(#b107)" stroke="url(#b107)"/><path d="M213.9 1108.9 L243.1 1058.6 L268.8 998.1 L238.9 1065.7Z"/><polygon points="184.1,1129.8 213.9,1108.9 209.1,1130.5" fill="url(#b108)" stroke="url(#b108)"/><polygon points="213.9,1108.9 238.9,1065.7 209.1,1130.5" fill="url(#b109)" stroke="url(#b109)"/><path d="M184.1 1129.8 L213.9 1108.9 L238.9 1065.7 L209.1 1130.5Z"/><polygon points="243.1,1058.6 272.1,1006.5 268.8,998.1" fill="url(#b110)" stroke="url(#b110)"/><polygon points="272.1,1006.5 298.7,926.1 268.8,998.1" fill="url(#b111)" stroke="url(#b111)"/><path d="M243.1 1058.6 L272.1 1006.5 L298.7 926.1 L268.8 998.1Z"/><polygon points="561.8,1276.5 589.3,1273.5 594.9,1328" fill="url(#b112)" stroke="url(#b112)"/><polygon points="589.3,1273.5 622.7,1324.3 594.9,1328" fill="url(#b113)" stroke="url(#b113)"/><path d="M561.8 1276.5 L589.3 1273.5 L622.7 1324.3 L594.9 1328Z"/><polygon points="153.7,1138.1 184.1,1129.8 178.4,1153.2" fill="url(#b114)" stroke="url(#b114)"/><polygon points="184.1,1129.8 209.1,1130.5 178.4,1153.2" fill="url(#b115)" stroke="url(#b115)"/><path d="M153.7 1138.1 L184.1 1129.8 L209.1 1130.5 L178.4 1153.2Z"/><polygon points="650.2,1318.9 677.2,1314.6 685.3,1365.6" fill="url(#b116)" stroke="url(#b116)"/><polygon points="677.2,1314.6 712.5,1361.2 685.3,1365.6" fill="url(#b117)" stroke="url(#b117)"/><path d="M650.2 1318.9 L677.2 1314.6 L712.5 1361.2 L685.3 1365.6Z"/><polygon points="739.3,1357.6 765.7,1353.3 776.2,1408.3" fill="url(#b118)" stroke="url(#b118)"/><polygon points="765.7,1353.3 802.8,1403.9 776.2,1408.3" fill="url(#b119)" stroke="url(#b119)"/><path d="M739.3 1357.6 L765.7 1353.3 L802.8 1403.9 L776.2 1408.3Z"/><polygon points="476.4,1112.9 502.9,1199.5 508.7,1152.3" fill="url(#b120)" stroke="url(#b120)"/><polygon points="502.9,1199.5 535,1240.3 508.7,1152.3" fill="url(#b121)" stroke="url(#b121)"/><path d="M476.4 1112.9 L502.9 1199.5 L535 1240.3 L508.7 1152.3Z"/><polygon points="417.7,987.5 445.4,1079.7 448.9,1014.5" fill="url(#b122)" stroke="url(#b122)"/><polygon points="445.4,1079.7 476.4,1112.9 448.9,1014.5" fill="url(#b123)" stroke="url(#b123)"/><path d="M417.7 987.5 L445.4 1079.7 L476.4 1112.9 L448.9 1014.5Z"/><polygon points="358.8,872 387.7,973.7 388.9,883.8" fill="url(#b124)" stroke="url(#b124)"/><polygon points="387.7,973.7 417.7,987.5 388.9,883.8" fill="url(#b125)" stroke="url(#b125)"/><path d="M358.8 872 L387.7 973.7 L417.7 987.5 L388.9 883.8Z"/><polygon points="535,1240.3 561.8,1276.5 568.1,1289.4" fill="url(#b126)" stroke="url(#b126)"/><polygon points="561.8,1276.5 594.9,1328 568.1,1289.4" fill="url(#b127)" stroke="url(#b127)"/><path d="M535 1240.3 L561.8 1276.5 L594.9 1328 L568.1 1289.4Z"/><polygon points="622.7,1324.3 650.2,1318.9 657.6,1371.4" fill="url(#b128)" stroke="url(#b128)"/><polygon points="650.2,1318.9 685.3,1365.6 657.6,1371.4" fill="url(#b129)" stroke="url(#b129)"/><path d="M622.7 1324.3 L650.2 1318.9 L685.3 1365.6 L657.6 1371.4ZM650.2 1318.9L657.6 1371.4"/><polygon points="712.5,1361.2 739.3,1357.6 749.2,1412" fill="url(#b130)" stroke="url(#b130)"/><polygon points="739.3,1357.6 776.2,1408.3 749.2,1412" fill="url(#b131)" stroke="url(#b131)"/><path d="M712.5 1361.2 L739.3 1357.6 L776.2 1408.3 L749.2 1412ZM739.3 1357.6L749.2 1412"/><polygon points="594.9,1328 622.7,1324.3 629.4,1379.1" fill="url(#b132)" stroke="url(#b132)"/><polygon points="622.7,1324.3 657.6,1371.4 629.4,1379.1" fill="url(#b133)" stroke="url(#b133)"/><path d="M594.9 1328 L622.7 1324.3 L657.6 1371.4 L629.4 1379.1Z"/><polygon points="685.3,1365.6 712.5,1361.2 721.7,1416.5" fill="url(#b134)" stroke="url(#b134)"/><polygon points="712.5,1361.2 749.2,1412 721.7,1416.5" fill="url(#b135)" stroke="url(#b135)"/><path d="M685.3 1365.6 L712.5 1361.2 L749.2 1412 L721.7 1416.5Z"/><polygon points="328.9,909.7 358.8,872 358.3,912.3" fill="url(#b136)" stroke="url(#b136)"/><polygon points="358.8,872 388.9,883.8 358.3,912.3" fill="url(#b137)" stroke="url(#b137)"/><path d="M328.9 909.7 L358.8 872 L388.9 883.8 L358.3 912.3Z"/><polygon points="298.7,926.1 328.9,909.7 327.6,936" fill="url(#b138)" stroke="url(#b138)"/><polygon points="328.9,909.7 358.3,912.3 327.6,936" fill="url(#b139)" stroke="url(#b139)"/><path d="M298.7 926.1 L328.9 909.7 L358.3 912.3 L327.6 936Z"/><polygon points="209.1,1130.5 238.9,1065.7 234.9,1099.1" fill="url(#b140)" stroke="url(#b140)"/><polygon points="238.9,1065.7 265.7,1032.2 234.9,1099.1" fill="url(#b141)" stroke="url(#b141)"/><path d="M209.1 1130.5 L238.9 1065.7 L265.7 1032.2 L234.9 1099.1Z"/><polygon points="508.7,1152.3 535,1240.3 542.1,1198.3" fill="url(#b142)" stroke="url(#b142)"/><polygon points="535,1240.3 568.1,1289.4 542.1,1198.3" fill="url(#b143)" stroke="url(#b143)"/><path d="M508.7 1152.3 L535 1240.3 L568.1 1289.4 L542.1 1198.3Z"/><polygon points="238.9,1065.7 268.8,998.1 265.7,1032.2" fill="url(#b144)" stroke="url(#b144)"/><polygon points="268.8,998.1 296.6,977.7 265.7,1032.2" fill="url(#b145)" stroke="url(#b145)"/><path d="M238.9 1065.7 L268.8 998.1 L296.6 977.7 L265.7 1032.2Z"/><polygon points="178.4,1153.2 209.1,1130.5 203.6,1136.3" fill="url(#b146)" stroke="url(#b146)"/><polygon points="209.1,1130.5 234.9,1099.1 203.6,1136.3" fill="url(#b147)" stroke="url(#b147)"/><path d="M178.4 1153.2 L209.1 1130.5 L234.9 1099.1 L203.6 1136.3Z"/><polygon points="268.8,998.1 298.7,926.1 296.6,977.7" fill="url(#b148)" stroke="url(#b148)"/><polygon points="298.7,926.1 327.6,936 296.6,977.7" fill="url(#b149)" stroke="url(#b149)"/><path d="M268.8 998.1 L298.7 926.1 L327.6 936 L296.6 977.7ZM298.7 926.1L296.6 977.7"/><polygon points="568.1,1289.4 594.9,1328 602.7,1335.7" fill="url(#b150)" stroke="url(#b150)"/><polygon points="594.9,1328 629.4,1379.1 602.7,1335.7" fill="url(#b151)" stroke="url(#b151)"/><path d="M568.1 1289.4 L594.9 1328 L629.4 1379.1 L602.7 1335.7Z"/><polygon points="657.6,1371.4 685.3,1365.6 693.7,1422.6" fill="url(#b152)" stroke="url(#b152)"/><polygon points="685.3,1365.6 721.7,1416.5 693.7,1422.6" fill="url(#b153)" stroke="url(#b153)"/><path d="M657.6 1371.4 L685.3 1365.6 L721.7 1416.5 L693.7 1422.6Z"/><polygon points="448.9,1014.5 476.4,1112.9 481.4,1047.8" fill="url(#b154)" stroke="url(#b154)"/><polygon points="476.4,1112.9 508.7,1152.3 481.4,1047.8" fill="url(#b155)" stroke="url(#b155)"/><path d="M448.9 1014.5 L476.4 1112.9 L508.7 1152.3 L481.4 1047.8Z"/><polygon points="388.9,883.8 417.7,987.5 420.3,896.1" fill="url(#b156)" stroke="url(#b156)"/><polygon points="417.7,987.5 448.9,1014.5 420.3,896.1" fill="url(#b157)" stroke="url(#b157)"/><path d="M388.9 883.8 L417.7 987.5 L448.9 1014.5 L420.3 896.1Z"/><polygon points="629.4,1379.1 657.6,1371.4 693.7,1422.6" fill="url(#b158)" stroke="url(#b158)"/><polygon points="629.4,1379.1 693.7,1422.6 665.3,1429.7" fill="url(#b159)" stroke="url(#b159)"/><path d="M629.4 1379.1 L657.6 1371.4 L693.7 1422.6 L665.3 1429.7Z"/><polygon points="358.3,912.3 388.9,883.8 389.2,925.4" fill="url(#b160)" stroke="url(#b160)"/><polygon points="388.9,883.8 420.3,896.1 389.2,925.4" fill="url(#b161)" stroke="url(#b161)"/><path d="M358.3 912.3 L388.9 883.8 L420.3 896.1 L389.2 925.4Z"/><polygon points="542.1,1198.3 568.1,1289.4 576.5,1256.2" fill="url(#b162)" stroke="url(#b162)"/><polygon points="568.1,1289.4 602.7,1335.7 576.5,1256.2" fill="url(#b163)" stroke="url(#b163)"/><path d="M542.1 1198.3 L568.1 1289.4 L602.7 1335.7 L576.5 1256.2ZM568.1 1289.4L576.5 1256.2"/><polygon points="602.7,1335.7 629.4,1379.1 639,1378.9" fill="url(#b164)" stroke="url(#b164)"/><polygon points="629.4,1379.1 665.3,1429.7 639,1378.9" fill="url(#b165)" stroke="url(#b165)"/><path d="M602.7 1335.7 L629.4 1379.1 L665.3 1429.7 L639 1378.9Z"/><polygon points="327.6,936 358.3,912.3 357.8,949" fill="url(#b166)" stroke="url(#b166)"/><polygon points="358.3,912.3 389.2,925.4 357.8,949" fill="url(#b167)" stroke="url(#b167)"/><path d="M327.6 936 L358.3 912.3 L389.2 925.4 L357.8 949ZM358.3 912.3L357.8 949"/><polygon points="481.4,1047.8 508.7,1152.3 515.3,1085.1" fill="url(#b168)" stroke="url(#b168)"/><polygon points="508.7,1152.3 542.1,1198.3 515.3,1085.1" fill="url(#b169)" stroke="url(#b169)"/><path d="M481.4 1047.8 L508.7 1152.3 L542.1 1198.3 L515.3 1085.1Z"/><polygon points="296.6,977.7 327.6,936 326.2,989.9" fill="url(#b170)" stroke="url(#b170)"/><polygon points="327.6,936 357.8,949 326.2,989.9" fill="url(#b171)" stroke="url(#b171)"/><path d="M296.6 977.7 L327.6 936 L357.8 949 L326.2 989.9Z"/><polygon points="420.3,896.1 448.9,1014.5 453.2,919.7" fill="url(#b172)" stroke="url(#b172)"/><polygon points="448.9,1014.5 481.4,1047.8 453.2,919.7" fill="url(#b173)" stroke="url(#b173)"/><path d="M420.3 896.1 L448.9 1014.5 L481.4 1047.8 L453.2 919.7ZM448.9 1014.5L453.2 919.7"/><polygon points="265.7,1032.2 296.6,977.7 294.4,1035.5" fill="url(#b174)" stroke="url(#b174)"/><polygon points="296.6,977.7 326.2,989.9 294.4,1035.5" fill="url(#b175)" stroke="url(#b175)"/><path d="M265.7 1032.2 L296.6 977.7 L326.2 989.9 L294.4 1035.5ZM296.6 977.7L294.4 1035.5"/><polygon points="234.9,1099.1 265.7,1032.2 262.6,1091.4" fill="url(#b176)" stroke="url(#b176)"/><polygon points="265.7,1032.2 294.4,1035.5 262.6,1091.4" fill="url(#b177)" stroke="url(#b177)"/><path d="M234.9 1099.1 L265.7 1032.2 L294.4 1035.5 L262.6 1091.4ZM265.7 1032.2L262.6 1091.4"/><polygon points="203.6,1136.3 234.9,1099.1 230.6,1133.1" fill="url(#b178)" stroke="url(#b178)"/><polygon points="234.9,1099.1 262.6,1091.4 230.6,1133.1" fill="url(#b179)" stroke="url(#b179)"/><path d="M203.6 1136.3 L234.9 1099.1 L262.6 1091.4 L230.6 1133.1Z"/><polygon points="576.5,1256.2 602.7,1335.7 612.5,1311.3" fill="url(#b180)" stroke="url(#b180)"/><polygon points="602.7,1335.7 639,1378.9 612.5,1311.3" fill="url(#b181)" stroke="url(#b181)"/><path d="M576.5 1256.2 L602.7 1335.7 L639 1378.9 L612.5 1311.3ZM602.7 1335.7L612.5 1311.3"/><polygon points="389.2,925.4 420.3,896.1 453.2,919.7" fill="url(#b182)" stroke="url(#b182)"/><polygon points="389.2,925.4 453.2,919.7 421.5,944.5" fill="url(#b183)" stroke="url(#b183)"/><path d="M389.2 925.4 L420.3 896.1 L453.2 919.7 L421.5 944.5Z"/><polygon points="515.3,1085.1 542.1,1198.3 550.3,1137.1" fill="url(#b184)" stroke="url(#b184)"/><polygon points="542.1,1198.3 576.5,1256.2 550.3,1137.1" fill="url(#b185)" stroke="url(#b185)"/><path d="M515.3 1085.1 L542.1 1198.3 L576.5 1256.2 L550.3 1137.1Z"/><polygon points="357.8,949 389.2,925.4 421.5,944.5" fill="url(#b186)" stroke="url(#b186)"/><polygon points="357.8,949 421.5,944.5 389.6,966.9" fill="url(#b187)" stroke="url(#b187)"/><path d="M357.8 949 L389.2 925.4 L421.5 944.5 L389.6 966.9Z"/><polygon points="453.2,919.7 481.4,1047.8 487.5,952.5" fill="url(#b188)" stroke="url(#b188)"/><polygon points="481.4,1047.8 515.3,1085.1 487.5,952.5" fill="url(#b189)" stroke="url(#b189)"/><path d="M453.2 919.7 L481.4 1047.8 L515.3 1085.1 L487.5 952.5Z"/><polygon points="326.2,989.9 357.8,949 389.6,966.9" fill="url(#b190)" stroke="url(#b190)"/><polygon points="326.2,989.9 389.6,966.9 357.2,1010.7" fill="url(#b191)" stroke="url(#b191)"/><path d="M326.2 989.9 L357.8 949 L389.6 966.9 L357.2 1010.7Z"/><polygon points="294.4,1035.5 326.2,989.9 357.2,1010.7" fill="url(#b192)" stroke="url(#b192)"/><polygon points="294.4,1035.5 357.2,1010.7 324.7,1052.1" fill="url(#b193)" stroke="url(#b193)"/><path d="M294.4 1035.5 L326.2 989.9 L357.2 1010.7 L324.7 1052.1Z"/><polygon points="262.6,1091.4 294.4,1035.5 292.1,1096.4" fill="url(#b194)" stroke="url(#b194)"/><polygon points="294.4,1035.5 324.7,1052.1 292.1,1096.4" fill="url(#b195)" stroke="url(#b195)"/><path d="M262.6 1091.4 L294.4 1035.5 L324.7 1052.1 L292.1 1096.4Z"/><polygon points="230.6,1133.1 262.6,1091.4 259,1122.4" fill="url(#b196)" stroke="url(#b196)"/><polygon points="262.6,1091.4 292.1,1096.4 259,1122.4" fill="url(#b197)" stroke="url(#b197)"/><path d="M230.6 1133.1 L262.6 1091.4 L292.1 1096.4 L259 1122.4Z"/><polygon points="550.3,1137.1 576.5,1256.2 586.3,1201.8" fill="url(#b198)" stroke="url(#b198)"/><polygon points="576.5,1256.2 612.5,1311.3 586.3,1201.8" fill="url(#b199)" stroke="url(#b199)"/><path d="M550.3 1137.1 L576.5 1256.2 L612.5 1311.3 L586.3 1201.8ZM576.5 1256.2L586.3 1201.8"/><polygon points="421.5,944.5 453.2,919.7 487.5,952.5" fill="url(#b200)" stroke="url(#b200)"/><polygon points="421.5,944.5 487.5,952.5 455.4,969.9" fill="url(#b201)" stroke="url(#b201)"/><path d="M421.5 944.5 L453.2 919.7 L487.5 952.5 L455.4 969.9Z"/><polygon points="487.5,952.5 515.3,1085.1 523.3,986.9" fill="url(#b202)" stroke="url(#b202)"/><polygon points="515.3,1085.1 550.3,1137.1 523.3,986.9" fill="url(#b203)" stroke="url(#b203)"/><path d="M487.5 952.5 L515.3 1085.1 L550.3 1137.1 L523.3 986.9Z"/><polygon points="389.6,966.9 421.5,944.5 455.4,969.9" fill="url(#b204)" stroke="url(#b204)"/><polygon points="389.6,966.9 455.4,969.9 422.9,987.5" fill="url(#b205)" stroke="url(#b205)"/><path d="M389.6 966.9 L421.5 944.5 L455.4 969.9 L422.9 987.5Z"/><polygon points="357.2,1010.7 389.6,966.9 422.9,987.5" fill="url(#b206)" stroke="url(#b206)"/><polygon points="357.2,1010.7 422.9,987.5 389.8,1032.5" fill="url(#b207)" stroke="url(#b207)"/><path d="M357.2 1010.7 L389.6 966.9 L422.9 987.5 L389.8 1032.5Z"/><polygon points="324.7,1052.1 357.2,1010.7 389.8,1032.5" fill="url(#b208)" stroke="url(#b208)"/><polygon points="324.7,1052.1 389.8,1032.5 356.6,1069.6" fill="url(#b209)" stroke="url(#b209)"/><path d="M324.7 1052.1 L357.2 1010.7 L389.8 1032.5 L356.6 1069.6Z"/><polygon points="292.1,1096.4 324.7,1052.1 356.6,1069.6" fill="url(#b210)" stroke="url(#b210)"/><polygon points="292.1,1096.4 356.6,1069.6 323.2,1115" fill="url(#b211)" stroke="url(#b211)"/><path d="M292.1 1096.4 L324.7 1052.1 L356.6 1069.6 L323.2 1115Z"/><polygon points="259,1122.4 292.1,1096.4 289.2,1113.6" fill="url(#b212)" stroke="url(#b212)"/><polygon points="292.1,1096.4 323.2,1115 289.2,1113.6" fill="url(#b213)" stroke="url(#b213)"/><path d="M259 1122.4 L292.1 1096.4 L323.2 1115 L289.2 1113.6Z"/><polygon points="455.4,969.9 487.5,952.5 523.3,986.9" fill="url(#b214)" stroke="url(#b214)"/><polygon points="455.4,969.9 523.3,986.9 490.8,999.4" fill="url(#b215)" stroke="url(#b215)"/><path d="M455.4 969.9 L487.5 952.5 L523.3 986.9 L490.8 999.4Z"/><polygon points="523.3,986.9 550.3,1137.1 560.7,1025.6" fill="url(#b216)" stroke="url(#b216)"/><polygon points="550.3,1137.1 586.3,1201.8 560.7,1025.6" fill="url(#b217)" stroke="url(#b217)"/><path d="M523.3 986.9 L550.3 1137.1 L586.3 1201.8 L560.7 1025.6Z"/><polygon points="422.9,987.5 455.4,969.9 490.8,999.4" fill="url(#b218)" stroke="url(#b218)"/><polygon points="422.9,987.5 490.8,999.4 457.8,1014.8" fill="url(#b219)" stroke="url(#b219)"/><path d="M422.9 987.5 L455.4 969.9 L490.8 999.4 L457.8 1014.8Z"/><polygon points="389.8,1032.5 422.9,987.5 457.8,1014.8" fill="url(#b220)" stroke="url(#b220)"/><polygon points="389.8,1032.5 457.8,1014.8 424,1058.2" fill="url(#b221)" stroke="url(#b221)"/><path d="M389.8 1032.5 L422.9 987.5 L457.8 1014.8 L424 1058.2ZM389.8 1032.5L457.8 1014.8"/><polygon points="356.6,1069.6 389.8,1032.5 424,1058.2" fill="url(#b222)" stroke="url(#b222)"/><polygon points="356.6,1069.6 424,1058.2 390.2,1088.1" fill="url(#b223)" stroke="url(#b223)"/><path d="M356.6 1069.6 L389.8 1032.5 L424 1058.2 L390.2 1088.1Z"/><polygon points="323.2,1115 356.6,1069.6 390.2,1088.1" fill="url(#b224)" stroke="url(#b224)"/><polygon points="323.2,1115 390.2,1088.1 355.9,1148.5" fill="url(#b225)" stroke="url(#b225)"/><path d="M323.2 1115 L356.6 1069.6 L390.2 1088.1 L355.9 1148.5Z"/><polygon points="289.2,1113.6 323.2,1115 321.4,1140.3" fill="url(#b226)" stroke="url(#b226)"/><polygon points="323.2,1115 355.9,1148.5 321.4,1140.3" fill="url(#b227)" stroke="url(#b227)"/><path d="M289.2 1113.6 L323.2 1115 L355.9 1148.5 L321.4 1140.3Z"/><polygon points="490.8,999.4 523.3,986.9 560.7,1025.6" fill="url(#b228)" stroke="url(#b228)"/><polygon points="490.8,999.4 560.7,1025.6 527.8,1035.9" fill="url(#b229)" stroke="url(#b229)"/><path d="M490.8 999.4 L523.3 986.9 L560.7 1025.6 L527.8 1035.9Z"/><polygon points="457.8,1014.8 490.8,999.4 527.8,1035.9" fill="url(#b230)" stroke="url(#b230)"/><polygon points="457.8,1014.8 527.8,1035.9 494.4,1046.3" fill="url(#b231)" stroke="url(#b231)"/><path d="M457.8 1014.8 L490.8 999.4 L527.8 1035.9 L494.4 1046.3Z"/><polygon points="424,1058.2 457.8,1014.8 494.4,1046.3" fill="url(#b232)" stroke="url(#b232)"/><polygon points="424,1058.2 494.4,1046.3 460,1085.2" fill="url(#b233)" stroke="url(#b233)"/><path d="M424 1058.2 L457.8 1014.8 L494.4 1046.3 L460 1085.2Z"/><polygon points="390.2,1088.1 424,1058.2 460,1085.2" fill="url(#b234)" stroke="url(#b234)"/><polygon points="390.2,1088.1 460,1085.2 425.6,1107.5" fill="url(#b235)" stroke="url(#b235)"/><path d="M390.2 1088.1 L424 1058.2 L460 1085.2 L425.6 1107.5Z"/><polygon points="355.9,1148.5 390.2,1088.1 425.6,1107.5" fill="url(#b236)" stroke="url(#b236)"/><polygon points="355.9,1148.5 425.6,1107.5 390.3,1177.9" fill="url(#b237)" stroke="url(#b237)"/><path d="M355.9 1148.5 L390.2 1088.1 L425.6 1107.5 L390.3 1177.9Z"/><polygon points="321.4,1140.3 355.9,1148.5 355.3,1167.1" fill="url(#b238)" stroke="url(#b238)"/><polygon points="355.9,1148.5 390.3,1177.9 355.3,1167.1" fill="url(#b239)" stroke="url(#b239)"/><path d="M321.4 1140.3 L355.9 1148.5 L390.3 1177.9 L355.3 1167.1ZM355.9 1148.5L355.3 1167.1"/></g>
<line class="a" x1="136.4" y1="1325.8" x2="121.9" y2="861.3"/>
<line class="a" x1="136.4" y1="1325.8" x2="354.6" y2="1524"/>
<line class="a" x1="354.6" y1="1524" x2="802.4" y2="1408.5"/>
<line class="a" x1="122.7" y1="886" x2="112.7" y2="886.2"/>
<line class="a" x1="126.5" y1="1007.3" x2="116.5" y2="1007.5"/>
<line class="a" x1="130.1" y1="1124.5" x2="120.1" y2="1124.7"/>
<line class="a" x1="133.6" y1="1237.8" x2="123.6" y2="1238"/>
<line class="a" x1="136.2" y1="1320.3" x2="131.7" y2="1320.4"/>
<line class="a" x1="135.4" y1="1293.1" x2="130.9" y2="1293.1"/>
<line class="a" x1="134.5" y1="1265.6" x2="130" y2="1265.6"/>
<line class="a" x1="132.8" y1="1209.9" x2="128.3" y2="1209.9"/>
<line class="a" x1="131.9" y1="1181.7" x2="127.4" y2="1181.7"/>
<line class="a" x1="131" y1="1153.2" x2="126.5" y2="1153.3"/>
<line class="a" x1="129.2" y1="1095.6" x2="124.7" y2="1095.7"/>
<line class="a" x1="128.3" y1="1066.4" x2="123.8" y2="1066.5"/>
<line class="a" x1="127.4" y1="1037" x2="122.9" y2="1037.1"/>
<line class="a" x1="125.5" y1="977.4" x2="121" y2="977.5"/>
<line class="a" x1="124.6" y1="947.2" x2="120.1" y2="947.3"/>
<line class="a" x1="123.6" y1="916.8" x2="119.2" y2="916.9"/>
<line class="a" x1="136.4" y1="1325.8" x2="127.5" y2="1327.1"/>
<line class="a" x1="183.6" y1="1368.6" x2="174.7" y2="1370"/>
<line class="a" x1="235.2" y1="1415.5" x2="226.3" y2="1416.9"/>
<line class="a" x1="292" y1="1467.1" x2="283.1" y2="1468.5"/>
<line class="a" x1="354.6" y1="1524" x2="345.7" y2="1525.3"/>
<line class="a" x1="147.8" y1="1336.1" x2="142.9" y2="1336.9"/>
<line class="a" x1="159.5" y1="1346.7" x2="154.5" y2="1347.5"/>
<line class="a" x1="171.4" y1="1357.6" x2="166.4" y2="1358.3"/>
<line class="a" x1="196.1" y1="1380" x2="191.1" y2="1380.7"/>
<line class="a" x1="208.8" y1="1391.5" x2="203.9" y2="1392.3"/>
<line class="a" x1="221.9" y1="1403.4" x2="216.9" y2="1404.2"/>
<line class="a" x1="248.9" y1="1428" x2="244" y2="1428.7"/>
<line class="a" x1="262.9" y1="1440.7" x2="258" y2="1441.4"/>
<line class="a" x1="277.3" y1="1453.7" x2="272.3" y2="1454.5"/>
<line class="a" x1="307" y1="1480.8" x2="302.1" y2="1481.5"/>
<line class="a" x1="322.5" y1="1494.8" x2="317.5" y2="1495.6"/>
<line class="a" x1="338.3" y1="1509.2" x2="333.4" y2="1510"/>
<line class="a" x1="452.9" y1="1498.6" x2="461" y2="1506"/>
<line class="a" x1="576.7" y1="1466.7" x2="584.8" y2="1474.1"/>
<line class="a" x1="693" y1="1436.7" x2="701.1" y2="1444.1"/>
<line class="a" x1="802.4" y1="1408.5" x2="810.6" y2="1415.9"/>
<line class="a" x1="354.6" y1="1524" x2="359" y2="1528"/>
<line class="a" x1="387.9" y1="1515.4" x2="392.3" y2="1519.4"/>
<line class="a" x1="420.6" y1="1506.9" x2="425.1" y2="1511"/>
<line class="a" x1="484.6" y1="1490.5" x2="489" y2="1494.5"/>
<line class="a" x1="515.8" y1="1482.4" x2="520.2" y2="1486.4"/>
<line class="a" x1="546.5" y1="1474.5" x2="550.9" y2="1478.5"/>
<line class="a" x1="606.4" y1="1459" x2="610.9" y2="1463.1"/>
<line class="a" x1="635.7" y1="1451.5" x2="640.2" y2="1455.5"/>
<line class="a" x1="664.6" y1="1444" x2="669" y2="1448.1"/>
<line class="a" x1="721" y1="1429.5" x2="725.4" y2="1433.5"/>
<line class="a" x1="748.5" y1="1422.4" x2="753" y2="1426.4"/>
<line class="a" x1="775.7" y1="1415.4" x2="780.1" y2="1419.4"/>
<text x="30.2" y="35.7" font-size="25.5" text-anchor="start" textLength="37.5" lengthAdjust="spacingAndGlyphs" stroke-width="0">(a)</text>
<text x="107" y="111.8" font-size="25.2" text-anchor="end">20</text>
<text x="113" y="224.8" font-size="25.2" text-anchor="end">10</text>
<text x="116" y="334.8" font-size="25.2" text-anchor="end">0</text>
<text x="120.5" y="440.8" font-size="25.2" text-anchor="end">-10</text>
<text x="119.5" y="523.2" font-size="25.2" text-anchor="end">10</text>
<text x="165.2" y="567.8" font-size="25.2" text-anchor="end">20</text>
<text x="216.2" y="616" font-size="25.2" text-anchor="end">30</text>
<text x="272.5" y="669.8" font-size="25.2" text-anchor="end">40</text>
<text x="334.2" y="729.6" font-size="25.2" text-anchor="end">50</text>
<text x="363.4" y="736.5" font-size="25.2" text-anchor="start">2</text>
<text x="488.8" y="704.7" font-size="25.2" text-anchor="start">4</text>
<text x="606.7" y="673.7" font-size="25.2" text-anchor="start">6</text>
<text x="715.8" y="643.3" font-size="25.2" text-anchor="start">8</text>
<text x="820.2" y="615.9" font-size="25.2" text-anchor="start">10</text>
<text x="62.6" y="290" font-size="35.6" text-anchor="middle" transform="rotate(-90 62.6 290)" letter-spacing="0.2">ΔS<tspan font-size="23.5" dy="8">M</tspan><tspan dy="-8"> (J/kgK)</tspan></text>
<text x="158.1" y="646" font-size="33.5" text-anchor="middle" transform="rotate(40 158.1 646)">H (kOe)</text>
<text x="648.7" y="702.6" font-size="35" text-anchor="middle" transform="rotate(-15.7 648.7 702.6)">Temperature (K)</text>
<text x="877" y="587" font-size="35" text-anchor="start" letter-spacing="0.6"><tspan font-style="italic">H</tspan> // c</text>
<text x="877" y="629.2" font-size="35" text-anchor="start">HoB<tspan font-size="23.5" dy="10" dx="1.5">4</tspan></text>
<rect x="858" y="44.6" width="46" height="458.2" fill="url(#cb)"/>
<rect x="858" y="40" width="46" height="4.6" fill="#fff"/>
<rect x="858" y="502.8" width="46" height="4.9" fill="#000"/>
<rect x="858" y="39.8" width="46" height="468.0" fill="none" stroke="#111" stroke-width="1.8"/>
<line class="ct" x1="904" y1="44.6" x2="915" y2="44.6"/>
<text x="921.5" y="51.4" font-size="19.2" text-anchor="start">22.80</text>
<line class="ct" x1="904" y1="90.4" x2="915" y2="90.4"/>
<text x="921.5" y="97.2" font-size="19.2" text-anchor="start">18.94</text>
<line class="ct" x1="904" y1="136.2" x2="915" y2="136.2"/>
<text x="921.5" y="143.0" font-size="19.2" text-anchor="start">15.08</text>
<line class="ct" x1="904" y1="182.1" x2="915" y2="182.1"/>
<text x="921.5" y="188.9" font-size="19.2" text-anchor="start">11.22</text>
<line class="ct" x1="904" y1="227.9" x2="915" y2="227.9"/>
<text x="921.5" y="234.7" font-size="19.2" text-anchor="start">7.360</text>
<line class="ct" x1="904" y1="273.7" x2="915" y2="273.7"/>
<text x="921.5" y="280.5" font-size="19.2" text-anchor="start">3.500</text>
<line class="ct" x1="904" y1="319.5" x2="915" y2="319.5"/>
<text x="921.5" y="326.3" font-size="19.2" text-anchor="start">-0.3600</text>
<line class="ct" x1="904" y1="365.3" x2="915" y2="365.3"/>
<text x="921.5" y="372.1" font-size="19.2" text-anchor="start">-4.220</text>
<line class="ct" x1="904" y1="411.2" x2="915" y2="411.2"/>
<text x="921.5" y="418.0" font-size="19.2" text-anchor="start">-8.080</text>
<line class="ct" x1="904" y1="457.0" x2="915" y2="457.0"/>
<text x="921.5" y="463.8" font-size="19.2" text-anchor="start">-11.94</text>
<line class="ct" x1="904" y1="502.8" x2="915" y2="502.8"/>
<text x="921.5" y="509.6" font-size="19.2" text-anchor="start">-15.80</text>
<text x="-0.2" y="867.6" font-size="25.5" text-anchor="start" textLength="37.5" lengthAdjust="spacingAndGlyphs" stroke-width="0">(b)</text>
<text x="105.5" y="897.8" font-size="25.2" text-anchor="end">10</text>
<text x="111.6" y="1020.3" font-size="25.2" text-anchor="end">5</text>
<text x="112.8" y="1138.4" font-size="25.2" text-anchor="end">0</text>
<text x="117.2" y="1252.8" font-size="25.2" text-anchor="end">-5</text>
<text x="119.5" y="1344.2" font-size="25.2" text-anchor="end">10</text>
<text x="165.2" y="1388.8" font-size="25.2" text-anchor="end">20</text>
<text x="216.2" y="1437" font-size="25.2" text-anchor="end">30</text>
<text x="272.5" y="1490.8" font-size="25.2" text-anchor="end">40</text>
<text x="334.2" y="1550.6" font-size="25.2" text-anchor="end">50</text>
<text x="467" y="1532.5" font-size="25.2" text-anchor="start">4</text>
<text x="592" y="1496.5" font-size="25.2" text-anchor="start">6</text>
<text x="710.5" y="1463.5" font-size="25.2" text-anchor="start">8</text>
<text x="821.7" y="1434.4" font-size="25.2" text-anchor="start">10</text>
<text x="71.4" y="1111" font-size="35.6" text-anchor="middle" transform="rotate(-90 71.4 1111)" letter-spacing="0.2">ΔS<tspan font-size="23.5" dy="8">M</tspan><tspan dy="-8"> (J/kgK)</tspan></text>
<text x="158.1" y="1467" font-size="33.5" text-anchor="middle" transform="rotate(40 158.1 1467)">H (kOe)</text>
<text x="648.7" y="1520.6" font-size="35" text-anchor="middle" transform="rotate(-15.7 648.7 1520.6)">Temperature (K)</text>
<text x="881" y="1399.5" font-size="35" text-anchor="start" letter-spacing="-0.2"><tspan font-style="italic">H</tspan> ⊥ c</text>
<text x="881" y="1441.7" font-size="35" text-anchor="start">HoB<tspan font-size="23.5" dy="10" dx="1.5">4</tspan></text>
<rect x="858" y="865.6" width="46" height="458.19999999999993" fill="url(#cb)"/>
<rect x="858" y="861" width="46" height="4.6" fill="#fff"/>
<rect x="858" y="1323.8" width="46" height="4.9" fill="#000"/>
<rect x="858" y="860.8" width="46" height="468.0" fill="none" stroke="#111" stroke-width="1.8"/>
<line class="ct" x1="904" y1="865.6" x2="915" y2="865.6"/>
<text x="921.5" y="872.4" font-size="19.2" text-anchor="start">10.80</text>
<line class="ct" x1="904" y1="911.4" x2="915" y2="911.4"/>
<text x="921.5" y="918.2" font-size="19.2" text-anchor="start">8.840</text>
<line class="ct" x1="904" y1="957.2" x2="915" y2="957.2"/>
<text x="921.5" y="964.0" font-size="19.2" text-anchor="start">6.880</text>
<line class="ct" x1="904" y1="1003.1" x2="915" y2="1003.1"/>
<text x="921.5" y="1009.9" font-size="19.2" text-anchor="start">4.920</text>
<line class="ct" x1="904" y1="1048.9" x2="915" y2="1048.9"/>
<text x="921.5" y="1055.7" font-size="19.2" text-anchor="start">2.960</text>
<line class="ct" x1="904" y1="1094.7" x2="915" y2="1094.7"/>
<text x="921.5" y="1101.5" font-size="19.2" text-anchor="start">1.000</text>
<line class="ct" x1="904" y1="1140.5" x2="915" y2="1140.5"/>
<text x="921.5" y="1147.3" font-size="19.2" text-anchor="start">-0.9600</text>
<line class="ct" x1="904" y1="1186.3" x2="915" y2="1186.3"/>
<text x="921.5" y="1193.1" font-size="19.2" text-anchor="start">-2.920</text>
<line class="ct" x1="904" y1="1232.2" x2="915" y2="1232.2"/>
<text x="921.5" y="1239.0" font-size="19.2" text-anchor="start">-4.880</text>
<line class="ct" x1="904" y1="1278.0" x2="915" y2="1278.0"/>
<text x="921.5" y="1284.8" font-size="19.2" text-anchor="start">-6.840</text>
<line class="ct" x1="904" y1="1323.8" x2="915" y2="1323.8"/>
<text x="921.5" y="1330.6" font-size="19.2" text-anchor="start">-8.800</text>
</svg>
</body></html>
